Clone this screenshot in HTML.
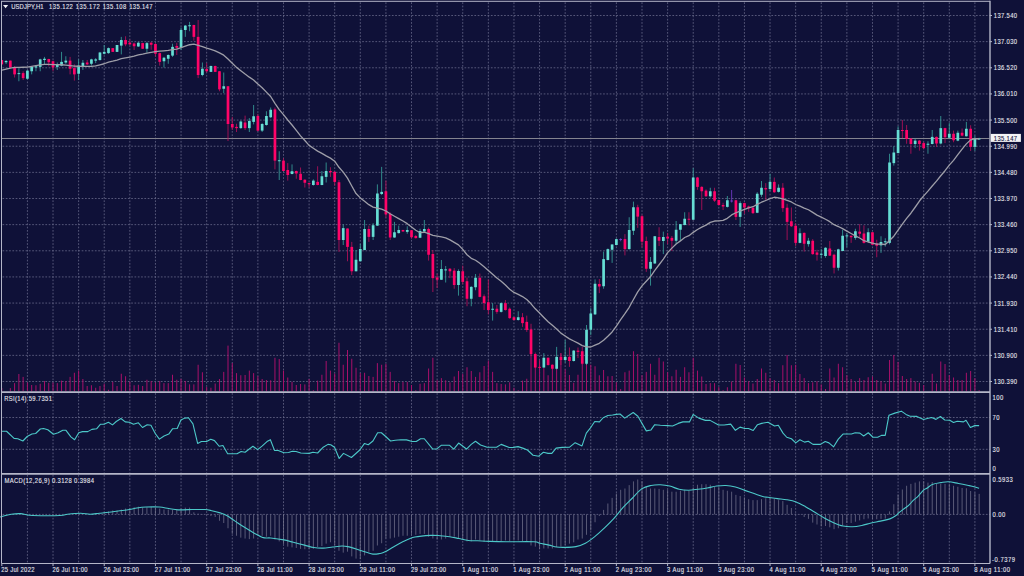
<!DOCTYPE html>
<html><head><meta charset="utf-8"><style>
html,body{margin:0;padding:0;background:#0f1138;width:1024px;height:576px;overflow:hidden}
svg{display:block}
text{font-family:"Liberation Sans",sans-serif;stroke-width:0.12}
</style></head><body>
<svg width="1024" height="576" viewBox="0 0 1024 576">
<rect x="0" y="0" width="1024" height="576" fill="#0f1138"/>
<line x1="27.41" y1="2.30" x2="27.41" y2="391.10" stroke="#686a8a" stroke-width="0.8" stroke-dasharray="1.7 1.6"/>
<line x1="27.41" y1="393.10" x2="27.41" y2="472.90" stroke="#686a8a" stroke-width="0.8" stroke-dasharray="1.7 1.6"/>
<line x1="27.41" y1="474.90" x2="27.41" y2="562.50" stroke="#686a8a" stroke-width="0.8" stroke-dasharray="1.7 1.6"/>
<line x1="53.02" y1="2.30" x2="53.02" y2="391.10" stroke="#686a8a" stroke-width="0.8" stroke-dasharray="1.7 1.6"/>
<line x1="53.02" y1="393.10" x2="53.02" y2="472.90" stroke="#686a8a" stroke-width="0.8" stroke-dasharray="1.7 1.6"/>
<line x1="53.02" y1="474.90" x2="53.02" y2="562.50" stroke="#686a8a" stroke-width="0.8" stroke-dasharray="1.7 1.6"/>
<line x1="78.62" y1="2.30" x2="78.62" y2="391.10" stroke="#686a8a" stroke-width="0.8" stroke-dasharray="1.7 1.6"/>
<line x1="78.62" y1="393.10" x2="78.62" y2="472.90" stroke="#686a8a" stroke-width="0.8" stroke-dasharray="1.7 1.6"/>
<line x1="78.62" y1="474.90" x2="78.62" y2="562.50" stroke="#686a8a" stroke-width="0.8" stroke-dasharray="1.7 1.6"/>
<line x1="104.23" y1="2.30" x2="104.23" y2="391.10" stroke="#686a8a" stroke-width="0.8" stroke-dasharray="1.7 1.6"/>
<line x1="104.23" y1="393.10" x2="104.23" y2="472.90" stroke="#686a8a" stroke-width="0.8" stroke-dasharray="1.7 1.6"/>
<line x1="104.23" y1="474.90" x2="104.23" y2="562.50" stroke="#686a8a" stroke-width="0.8" stroke-dasharray="1.7 1.6"/>
<line x1="129.84" y1="2.30" x2="129.84" y2="391.10" stroke="#686a8a" stroke-width="0.8" stroke-dasharray="1.7 1.6"/>
<line x1="129.84" y1="393.10" x2="129.84" y2="472.90" stroke="#686a8a" stroke-width="0.8" stroke-dasharray="1.7 1.6"/>
<line x1="129.84" y1="474.90" x2="129.84" y2="562.50" stroke="#686a8a" stroke-width="0.8" stroke-dasharray="1.7 1.6"/>
<line x1="155.45" y1="2.30" x2="155.45" y2="391.10" stroke="#686a8a" stroke-width="0.8" stroke-dasharray="1.7 1.6"/>
<line x1="155.45" y1="393.10" x2="155.45" y2="472.90" stroke="#686a8a" stroke-width="0.8" stroke-dasharray="1.7 1.6"/>
<line x1="155.45" y1="474.90" x2="155.45" y2="562.50" stroke="#686a8a" stroke-width="0.8" stroke-dasharray="1.7 1.6"/>
<line x1="181.06" y1="2.30" x2="181.06" y2="391.10" stroke="#686a8a" stroke-width="0.8" stroke-dasharray="1.7 1.6"/>
<line x1="181.06" y1="393.10" x2="181.06" y2="472.90" stroke="#686a8a" stroke-width="0.8" stroke-dasharray="1.7 1.6"/>
<line x1="181.06" y1="474.90" x2="181.06" y2="562.50" stroke="#686a8a" stroke-width="0.8" stroke-dasharray="1.7 1.6"/>
<line x1="206.66" y1="2.30" x2="206.66" y2="391.10" stroke="#686a8a" stroke-width="0.8" stroke-dasharray="1.7 1.6"/>
<line x1="206.66" y1="393.10" x2="206.66" y2="472.90" stroke="#686a8a" stroke-width="0.8" stroke-dasharray="1.7 1.6"/>
<line x1="206.66" y1="474.90" x2="206.66" y2="562.50" stroke="#686a8a" stroke-width="0.8" stroke-dasharray="1.7 1.6"/>
<line x1="232.27" y1="2.30" x2="232.27" y2="391.10" stroke="#686a8a" stroke-width="0.8" stroke-dasharray="1.7 1.6"/>
<line x1="232.27" y1="393.10" x2="232.27" y2="472.90" stroke="#686a8a" stroke-width="0.8" stroke-dasharray="1.7 1.6"/>
<line x1="232.27" y1="474.90" x2="232.27" y2="562.50" stroke="#686a8a" stroke-width="0.8" stroke-dasharray="1.7 1.6"/>
<line x1="257.88" y1="2.30" x2="257.88" y2="391.10" stroke="#686a8a" stroke-width="0.8" stroke-dasharray="1.7 1.6"/>
<line x1="257.88" y1="393.10" x2="257.88" y2="472.90" stroke="#686a8a" stroke-width="0.8" stroke-dasharray="1.7 1.6"/>
<line x1="257.88" y1="474.90" x2="257.88" y2="562.50" stroke="#686a8a" stroke-width="0.8" stroke-dasharray="1.7 1.6"/>
<line x1="283.49" y1="2.30" x2="283.49" y2="391.10" stroke="#686a8a" stroke-width="0.8" stroke-dasharray="1.7 1.6"/>
<line x1="283.49" y1="393.10" x2="283.49" y2="472.90" stroke="#686a8a" stroke-width="0.8" stroke-dasharray="1.7 1.6"/>
<line x1="283.49" y1="474.90" x2="283.49" y2="562.50" stroke="#686a8a" stroke-width="0.8" stroke-dasharray="1.7 1.6"/>
<line x1="309.10" y1="2.30" x2="309.10" y2="391.10" stroke="#686a8a" stroke-width="0.8" stroke-dasharray="1.7 1.6"/>
<line x1="309.10" y1="393.10" x2="309.10" y2="472.90" stroke="#686a8a" stroke-width="0.8" stroke-dasharray="1.7 1.6"/>
<line x1="309.10" y1="474.90" x2="309.10" y2="562.50" stroke="#686a8a" stroke-width="0.8" stroke-dasharray="1.7 1.6"/>
<line x1="334.70" y1="2.30" x2="334.70" y2="391.10" stroke="#686a8a" stroke-width="0.8" stroke-dasharray="1.7 1.6"/>
<line x1="334.70" y1="393.10" x2="334.70" y2="472.90" stroke="#686a8a" stroke-width="0.8" stroke-dasharray="1.7 1.6"/>
<line x1="334.70" y1="474.90" x2="334.70" y2="562.50" stroke="#686a8a" stroke-width="0.8" stroke-dasharray="1.7 1.6"/>
<line x1="360.31" y1="2.30" x2="360.31" y2="391.10" stroke="#686a8a" stroke-width="0.8" stroke-dasharray="1.7 1.6"/>
<line x1="360.31" y1="393.10" x2="360.31" y2="472.90" stroke="#686a8a" stroke-width="0.8" stroke-dasharray="1.7 1.6"/>
<line x1="360.31" y1="474.90" x2="360.31" y2="562.50" stroke="#686a8a" stroke-width="0.8" stroke-dasharray="1.7 1.6"/>
<line x1="385.92" y1="2.30" x2="385.92" y2="391.10" stroke="#686a8a" stroke-width="0.8" stroke-dasharray="1.7 1.6"/>
<line x1="385.92" y1="393.10" x2="385.92" y2="472.90" stroke="#686a8a" stroke-width="0.8" stroke-dasharray="1.7 1.6"/>
<line x1="385.92" y1="474.90" x2="385.92" y2="562.50" stroke="#686a8a" stroke-width="0.8" stroke-dasharray="1.7 1.6"/>
<line x1="411.53" y1="2.30" x2="411.53" y2="391.10" stroke="#686a8a" stroke-width="0.8" stroke-dasharray="1.7 1.6"/>
<line x1="411.53" y1="393.10" x2="411.53" y2="472.90" stroke="#686a8a" stroke-width="0.8" stroke-dasharray="1.7 1.6"/>
<line x1="411.53" y1="474.90" x2="411.53" y2="562.50" stroke="#686a8a" stroke-width="0.8" stroke-dasharray="1.7 1.6"/>
<line x1="437.14" y1="2.30" x2="437.14" y2="391.10" stroke="#686a8a" stroke-width="0.8" stroke-dasharray="1.7 1.6"/>
<line x1="437.14" y1="393.10" x2="437.14" y2="472.90" stroke="#686a8a" stroke-width="0.8" stroke-dasharray="1.7 1.6"/>
<line x1="437.14" y1="474.90" x2="437.14" y2="562.50" stroke="#686a8a" stroke-width="0.8" stroke-dasharray="1.7 1.6"/>
<line x1="462.74" y1="2.30" x2="462.74" y2="391.10" stroke="#686a8a" stroke-width="0.8" stroke-dasharray="1.7 1.6"/>
<line x1="462.74" y1="393.10" x2="462.74" y2="472.90" stroke="#686a8a" stroke-width="0.8" stroke-dasharray="1.7 1.6"/>
<line x1="462.74" y1="474.90" x2="462.74" y2="562.50" stroke="#686a8a" stroke-width="0.8" stroke-dasharray="1.7 1.6"/>
<line x1="488.35" y1="2.30" x2="488.35" y2="391.10" stroke="#686a8a" stroke-width="0.8" stroke-dasharray="1.7 1.6"/>
<line x1="488.35" y1="393.10" x2="488.35" y2="472.90" stroke="#686a8a" stroke-width="0.8" stroke-dasharray="1.7 1.6"/>
<line x1="488.35" y1="474.90" x2="488.35" y2="562.50" stroke="#686a8a" stroke-width="0.8" stroke-dasharray="1.7 1.6"/>
<line x1="513.96" y1="2.30" x2="513.96" y2="391.10" stroke="#686a8a" stroke-width="0.8" stroke-dasharray="1.7 1.6"/>
<line x1="513.96" y1="393.10" x2="513.96" y2="472.90" stroke="#686a8a" stroke-width="0.8" stroke-dasharray="1.7 1.6"/>
<line x1="513.96" y1="474.90" x2="513.96" y2="562.50" stroke="#686a8a" stroke-width="0.8" stroke-dasharray="1.7 1.6"/>
<line x1="539.57" y1="2.30" x2="539.57" y2="391.10" stroke="#686a8a" stroke-width="0.8" stroke-dasharray="1.7 1.6"/>
<line x1="539.57" y1="393.10" x2="539.57" y2="472.90" stroke="#686a8a" stroke-width="0.8" stroke-dasharray="1.7 1.6"/>
<line x1="539.57" y1="474.90" x2="539.57" y2="562.50" stroke="#686a8a" stroke-width="0.8" stroke-dasharray="1.7 1.6"/>
<line x1="565.18" y1="2.30" x2="565.18" y2="391.10" stroke="#686a8a" stroke-width="0.8" stroke-dasharray="1.7 1.6"/>
<line x1="565.18" y1="393.10" x2="565.18" y2="472.90" stroke="#686a8a" stroke-width="0.8" stroke-dasharray="1.7 1.6"/>
<line x1="565.18" y1="474.90" x2="565.18" y2="562.50" stroke="#686a8a" stroke-width="0.8" stroke-dasharray="1.7 1.6"/>
<line x1="590.78" y1="2.30" x2="590.78" y2="391.10" stroke="#686a8a" stroke-width="0.8" stroke-dasharray="1.7 1.6"/>
<line x1="590.78" y1="393.10" x2="590.78" y2="472.90" stroke="#686a8a" stroke-width="0.8" stroke-dasharray="1.7 1.6"/>
<line x1="590.78" y1="474.90" x2="590.78" y2="562.50" stroke="#686a8a" stroke-width="0.8" stroke-dasharray="1.7 1.6"/>
<line x1="616.39" y1="2.30" x2="616.39" y2="391.10" stroke="#686a8a" stroke-width="0.8" stroke-dasharray="1.7 1.6"/>
<line x1="616.39" y1="393.10" x2="616.39" y2="472.90" stroke="#686a8a" stroke-width="0.8" stroke-dasharray="1.7 1.6"/>
<line x1="616.39" y1="474.90" x2="616.39" y2="562.50" stroke="#686a8a" stroke-width="0.8" stroke-dasharray="1.7 1.6"/>
<line x1="642.00" y1="2.30" x2="642.00" y2="391.10" stroke="#686a8a" stroke-width="0.8" stroke-dasharray="1.7 1.6"/>
<line x1="642.00" y1="393.10" x2="642.00" y2="472.90" stroke="#686a8a" stroke-width="0.8" stroke-dasharray="1.7 1.6"/>
<line x1="642.00" y1="474.90" x2="642.00" y2="562.50" stroke="#686a8a" stroke-width="0.8" stroke-dasharray="1.7 1.6"/>
<line x1="667.61" y1="2.30" x2="667.61" y2="391.10" stroke="#686a8a" stroke-width="0.8" stroke-dasharray="1.7 1.6"/>
<line x1="667.61" y1="393.10" x2="667.61" y2="472.90" stroke="#686a8a" stroke-width="0.8" stroke-dasharray="1.7 1.6"/>
<line x1="667.61" y1="474.90" x2="667.61" y2="562.50" stroke="#686a8a" stroke-width="0.8" stroke-dasharray="1.7 1.6"/>
<line x1="693.22" y1="2.30" x2="693.22" y2="391.10" stroke="#686a8a" stroke-width="0.8" stroke-dasharray="1.7 1.6"/>
<line x1="693.22" y1="393.10" x2="693.22" y2="472.90" stroke="#686a8a" stroke-width="0.8" stroke-dasharray="1.7 1.6"/>
<line x1="693.22" y1="474.90" x2="693.22" y2="562.50" stroke="#686a8a" stroke-width="0.8" stroke-dasharray="1.7 1.6"/>
<line x1="718.82" y1="2.30" x2="718.82" y2="391.10" stroke="#686a8a" stroke-width="0.8" stroke-dasharray="1.7 1.6"/>
<line x1="718.82" y1="393.10" x2="718.82" y2="472.90" stroke="#686a8a" stroke-width="0.8" stroke-dasharray="1.7 1.6"/>
<line x1="718.82" y1="474.90" x2="718.82" y2="562.50" stroke="#686a8a" stroke-width="0.8" stroke-dasharray="1.7 1.6"/>
<line x1="744.43" y1="2.30" x2="744.43" y2="391.10" stroke="#686a8a" stroke-width="0.8" stroke-dasharray="1.7 1.6"/>
<line x1="744.43" y1="393.10" x2="744.43" y2="472.90" stroke="#686a8a" stroke-width="0.8" stroke-dasharray="1.7 1.6"/>
<line x1="744.43" y1="474.90" x2="744.43" y2="562.50" stroke="#686a8a" stroke-width="0.8" stroke-dasharray="1.7 1.6"/>
<line x1="770.04" y1="2.30" x2="770.04" y2="391.10" stroke="#686a8a" stroke-width="0.8" stroke-dasharray="1.7 1.6"/>
<line x1="770.04" y1="393.10" x2="770.04" y2="472.90" stroke="#686a8a" stroke-width="0.8" stroke-dasharray="1.7 1.6"/>
<line x1="770.04" y1="474.90" x2="770.04" y2="562.50" stroke="#686a8a" stroke-width="0.8" stroke-dasharray="1.7 1.6"/>
<line x1="795.65" y1="2.30" x2="795.65" y2="391.10" stroke="#686a8a" stroke-width="0.8" stroke-dasharray="1.7 1.6"/>
<line x1="795.65" y1="393.10" x2="795.65" y2="472.90" stroke="#686a8a" stroke-width="0.8" stroke-dasharray="1.7 1.6"/>
<line x1="795.65" y1="474.90" x2="795.65" y2="562.50" stroke="#686a8a" stroke-width="0.8" stroke-dasharray="1.7 1.6"/>
<line x1="821.26" y1="2.30" x2="821.26" y2="391.10" stroke="#686a8a" stroke-width="0.8" stroke-dasharray="1.7 1.6"/>
<line x1="821.26" y1="393.10" x2="821.26" y2="472.90" stroke="#686a8a" stroke-width="0.8" stroke-dasharray="1.7 1.6"/>
<line x1="821.26" y1="474.90" x2="821.26" y2="562.50" stroke="#686a8a" stroke-width="0.8" stroke-dasharray="1.7 1.6"/>
<line x1="846.86" y1="2.30" x2="846.86" y2="391.10" stroke="#686a8a" stroke-width="0.8" stroke-dasharray="1.7 1.6"/>
<line x1="846.86" y1="393.10" x2="846.86" y2="472.90" stroke="#686a8a" stroke-width="0.8" stroke-dasharray="1.7 1.6"/>
<line x1="846.86" y1="474.90" x2="846.86" y2="562.50" stroke="#686a8a" stroke-width="0.8" stroke-dasharray="1.7 1.6"/>
<line x1="872.47" y1="2.30" x2="872.47" y2="391.10" stroke="#686a8a" stroke-width="0.8" stroke-dasharray="1.7 1.6"/>
<line x1="872.47" y1="393.10" x2="872.47" y2="472.90" stroke="#686a8a" stroke-width="0.8" stroke-dasharray="1.7 1.6"/>
<line x1="872.47" y1="474.90" x2="872.47" y2="562.50" stroke="#686a8a" stroke-width="0.8" stroke-dasharray="1.7 1.6"/>
<line x1="898.08" y1="2.30" x2="898.08" y2="391.10" stroke="#686a8a" stroke-width="0.8" stroke-dasharray="1.7 1.6"/>
<line x1="898.08" y1="393.10" x2="898.08" y2="472.90" stroke="#686a8a" stroke-width="0.8" stroke-dasharray="1.7 1.6"/>
<line x1="898.08" y1="474.90" x2="898.08" y2="562.50" stroke="#686a8a" stroke-width="0.8" stroke-dasharray="1.7 1.6"/>
<line x1="923.69" y1="2.30" x2="923.69" y2="391.10" stroke="#686a8a" stroke-width="0.8" stroke-dasharray="1.7 1.6"/>
<line x1="923.69" y1="393.10" x2="923.69" y2="472.90" stroke="#686a8a" stroke-width="0.8" stroke-dasharray="1.7 1.6"/>
<line x1="923.69" y1="474.90" x2="923.69" y2="562.50" stroke="#686a8a" stroke-width="0.8" stroke-dasharray="1.7 1.6"/>
<line x1="949.30" y1="2.30" x2="949.30" y2="391.10" stroke="#686a8a" stroke-width="0.8" stroke-dasharray="1.7 1.6"/>
<line x1="949.30" y1="393.10" x2="949.30" y2="472.90" stroke="#686a8a" stroke-width="0.8" stroke-dasharray="1.7 1.6"/>
<line x1="949.30" y1="474.90" x2="949.30" y2="562.50" stroke="#686a8a" stroke-width="0.8" stroke-dasharray="1.7 1.6"/>
<line x1="974.90" y1="2.30" x2="974.90" y2="391.10" stroke="#686a8a" stroke-width="0.8" stroke-dasharray="1.7 1.6"/>
<line x1="974.90" y1="393.10" x2="974.90" y2="472.90" stroke="#686a8a" stroke-width="0.8" stroke-dasharray="1.7 1.6"/>
<line x1="974.90" y1="474.90" x2="974.90" y2="562.50" stroke="#686a8a" stroke-width="0.8" stroke-dasharray="1.7 1.6"/>
<line x1="2.50" y1="15.50" x2="990.00" y2="15.50" stroke="#686a8a" stroke-width="0.8" stroke-dasharray="1.7 1.6"/>
<line x1="2.50" y1="41.64" x2="990.00" y2="41.64" stroke="#686a8a" stroke-width="0.8" stroke-dasharray="1.7 1.6"/>
<line x1="2.50" y1="67.79" x2="990.00" y2="67.79" stroke="#686a8a" stroke-width="0.8" stroke-dasharray="1.7 1.6"/>
<line x1="2.50" y1="93.93" x2="990.00" y2="93.93" stroke="#686a8a" stroke-width="0.8" stroke-dasharray="1.7 1.6"/>
<line x1="2.50" y1="120.07" x2="990.00" y2="120.07" stroke="#686a8a" stroke-width="0.8" stroke-dasharray="1.7 1.6"/>
<line x1="2.50" y1="146.22" x2="990.00" y2="146.22" stroke="#686a8a" stroke-width="0.8" stroke-dasharray="1.7 1.6"/>
<line x1="2.50" y1="172.36" x2="990.00" y2="172.36" stroke="#686a8a" stroke-width="0.8" stroke-dasharray="1.7 1.6"/>
<line x1="2.50" y1="198.50" x2="990.00" y2="198.50" stroke="#686a8a" stroke-width="0.8" stroke-dasharray="1.7 1.6"/>
<line x1="2.50" y1="224.64" x2="990.00" y2="224.64" stroke="#686a8a" stroke-width="0.8" stroke-dasharray="1.7 1.6"/>
<line x1="2.50" y1="250.79" x2="990.00" y2="250.79" stroke="#686a8a" stroke-width="0.8" stroke-dasharray="1.7 1.6"/>
<line x1="2.50" y1="276.93" x2="990.00" y2="276.93" stroke="#686a8a" stroke-width="0.8" stroke-dasharray="1.7 1.6"/>
<line x1="2.50" y1="303.07" x2="990.00" y2="303.07" stroke="#686a8a" stroke-width="0.8" stroke-dasharray="1.7 1.6"/>
<line x1="2.50" y1="329.22" x2="990.00" y2="329.22" stroke="#686a8a" stroke-width="0.8" stroke-dasharray="1.7 1.6"/>
<line x1="2.50" y1="355.36" x2="990.00" y2="355.36" stroke="#686a8a" stroke-width="0.8" stroke-dasharray="1.7 1.6"/>
<line x1="2.50" y1="381.50" x2="990.00" y2="381.50" stroke="#686a8a" stroke-width="0.8" stroke-dasharray="1.7 1.6"/>
<line x1="2.50" y1="417.50" x2="990.00" y2="417.50" stroke="#686a8a" stroke-width="0.8" stroke-dasharray="1.7 1.6"/>
<line x1="2.50" y1="449.30" x2="990.00" y2="449.30" stroke="#686a8a" stroke-width="0.8" stroke-dasharray="1.7 1.6"/>
<line x1="2.50" y1="514.40" x2="990.00" y2="514.40" stroke="#686a8a" stroke-width="0.8" stroke-dasharray="1.7 1.6"/>
<defs><clipPath id="cm"><rect x="2" y="1.5" width="987.5" height="390"/></clipPath><clipPath id="cr"><rect x="2" y="393" width="987.5" height="80"/></clipPath><clipPath id="cd"><rect x="2" y="474.5" width="987.5" height="88.5"/></clipPath></defs>
<g clip-path="url(#cm)">
<line x1="1.80" y1="388.12" x2="1.80" y2="391.6" stroke="#a8106a" stroke-width="1"/>
<line x1="10.34" y1="388.12" x2="10.34" y2="391.6" stroke="#a8106a" stroke-width="1"/>
<line x1="14.60" y1="383.12" x2="14.60" y2="391.6" stroke="#a8106a" stroke-width="1"/>
<line x1="18.87" y1="374.00" x2="18.87" y2="391.6" stroke="#a8106a" stroke-width="1"/>
<line x1="23.14" y1="376.88" x2="23.14" y2="391.6" stroke="#a8106a" stroke-width="1"/>
<line x1="27.41" y1="382.50" x2="27.41" y2="391.6" stroke="#a8106a" stroke-width="1"/>
<line x1="31.68" y1="385.00" x2="31.68" y2="391.6" stroke="#a8106a" stroke-width="1"/>
<line x1="35.94" y1="385.25" x2="35.94" y2="391.6" stroke="#a8106a" stroke-width="1"/>
<line x1="40.21" y1="383.75" x2="40.21" y2="391.6" stroke="#a8106a" stroke-width="1"/>
<line x1="44.48" y1="381.00" x2="44.48" y2="391.6" stroke="#a8106a" stroke-width="1"/>
<line x1="48.75" y1="382.75" x2="48.75" y2="391.6" stroke="#a8106a" stroke-width="1"/>
<line x1="53.02" y1="382.50" x2="53.02" y2="391.6" stroke="#a8106a" stroke-width="1"/>
<line x1="57.28" y1="383.12" x2="57.28" y2="391.6" stroke="#a8106a" stroke-width="1"/>
<line x1="61.55" y1="380.62" x2="61.55" y2="391.6" stroke="#a8106a" stroke-width="1"/>
<line x1="65.82" y1="381.00" x2="65.82" y2="391.6" stroke="#a8106a" stroke-width="1"/>
<line x1="70.09" y1="376.88" x2="70.09" y2="391.6" stroke="#a8106a" stroke-width="1"/>
<line x1="74.36" y1="372.75" x2="74.36" y2="391.6" stroke="#a8106a" stroke-width="1"/>
<line x1="78.62" y1="370.62" x2="78.62" y2="391.6" stroke="#a8106a" stroke-width="1"/>
<line x1="82.89" y1="379.00" x2="82.89" y2="391.6" stroke="#a8106a" stroke-width="1"/>
<line x1="87.16" y1="386.00" x2="87.16" y2="391.6" stroke="#a8106a" stroke-width="1"/>
<line x1="91.43" y1="385.25" x2="91.43" y2="391.6" stroke="#a8106a" stroke-width="1"/>
<line x1="95.70" y1="387.75" x2="95.70" y2="391.6" stroke="#a8106a" stroke-width="1"/>
<line x1="99.96" y1="386.00" x2="99.96" y2="391.6" stroke="#a8106a" stroke-width="1"/>
<line x1="104.23" y1="383.75" x2="104.23" y2="391.6" stroke="#a8106a" stroke-width="1"/>
<line x1="108.50" y1="389.75" x2="108.50" y2="391.6" stroke="#a8106a" stroke-width="1"/>
<line x1="112.77" y1="381.88" x2="112.77" y2="391.6" stroke="#a8106a" stroke-width="1"/>
<line x1="117.04" y1="386.00" x2="117.04" y2="391.6" stroke="#a8106a" stroke-width="1"/>
<line x1="121.30" y1="373.75" x2="121.30" y2="391.6" stroke="#a8106a" stroke-width="1"/>
<line x1="125.57" y1="376.25" x2="125.57" y2="391.6" stroke="#a8106a" stroke-width="1"/>
<line x1="129.84" y1="381.50" x2="129.84" y2="391.6" stroke="#a8106a" stroke-width="1"/>
<line x1="134.11" y1="385.25" x2="134.11" y2="391.6" stroke="#a8106a" stroke-width="1"/>
<line x1="138.38" y1="384.75" x2="138.38" y2="391.6" stroke="#a8106a" stroke-width="1"/>
<line x1="142.64" y1="386.00" x2="142.64" y2="391.6" stroke="#a8106a" stroke-width="1"/>
<line x1="146.91" y1="379.75" x2="146.91" y2="391.6" stroke="#a8106a" stroke-width="1"/>
<line x1="151.18" y1="381.00" x2="151.18" y2="391.6" stroke="#a8106a" stroke-width="1"/>
<line x1="155.45" y1="382.50" x2="155.45" y2="391.6" stroke="#a8106a" stroke-width="1"/>
<line x1="159.72" y1="381.00" x2="159.72" y2="391.6" stroke="#a8106a" stroke-width="1"/>
<line x1="163.98" y1="383.12" x2="163.98" y2="391.6" stroke="#a8106a" stroke-width="1"/>
<line x1="168.25" y1="383.12" x2="168.25" y2="391.6" stroke="#a8106a" stroke-width="1"/>
<line x1="172.52" y1="374.75" x2="172.52" y2="391.6" stroke="#a8106a" stroke-width="1"/>
<line x1="176.79" y1="379.75" x2="176.79" y2="391.6" stroke="#a8106a" stroke-width="1"/>
<line x1="181.06" y1="378.75" x2="181.06" y2="391.6" stroke="#a8106a" stroke-width="1"/>
<line x1="185.32" y1="381.00" x2="185.32" y2="391.6" stroke="#a8106a" stroke-width="1"/>
<line x1="189.59" y1="384.38" x2="189.59" y2="391.6" stroke="#a8106a" stroke-width="1"/>
<line x1="193.86" y1="384.38" x2="193.86" y2="391.6" stroke="#a8106a" stroke-width="1"/>
<line x1="198.13" y1="364.75" x2="198.13" y2="391.6" stroke="#a8106a" stroke-width="1"/>
<line x1="202.40" y1="372.25" x2="202.40" y2="391.6" stroke="#a8106a" stroke-width="1"/>
<line x1="206.66" y1="386.88" x2="206.66" y2="391.6" stroke="#a8106a" stroke-width="1"/>
<line x1="210.93" y1="387.75" x2="210.93" y2="391.6" stroke="#a8106a" stroke-width="1"/>
<line x1="215.20" y1="383.50" x2="215.20" y2="391.6" stroke="#a8106a" stroke-width="1"/>
<line x1="219.47" y1="379.00" x2="219.47" y2="391.6" stroke="#a8106a" stroke-width="1"/>
<line x1="223.74" y1="371.88" x2="223.74" y2="391.6" stroke="#a8106a" stroke-width="1"/>
<line x1="228.00" y1="345.62" x2="228.00" y2="391.6" stroke="#a8106a" stroke-width="1"/>
<line x1="232.27" y1="363.12" x2="232.27" y2="391.6" stroke="#a8106a" stroke-width="1"/>
<line x1="236.54" y1="373.12" x2="236.54" y2="391.6" stroke="#a8106a" stroke-width="1"/>
<line x1="240.81" y1="375.25" x2="240.81" y2="391.6" stroke="#a8106a" stroke-width="1"/>
<line x1="245.08" y1="375.00" x2="245.08" y2="391.6" stroke="#a8106a" stroke-width="1"/>
<line x1="249.34" y1="370.62" x2="249.34" y2="391.6" stroke="#a8106a" stroke-width="1"/>
<line x1="253.61" y1="373.12" x2="253.61" y2="391.6" stroke="#a8106a" stroke-width="1"/>
<line x1="257.88" y1="376.25" x2="257.88" y2="391.6" stroke="#a8106a" stroke-width="1"/>
<line x1="262.15" y1="379.00" x2="262.15" y2="391.6" stroke="#a8106a" stroke-width="1"/>
<line x1="266.42" y1="380.00" x2="266.42" y2="391.6" stroke="#a8106a" stroke-width="1"/>
<line x1="270.68" y1="380.25" x2="270.68" y2="391.6" stroke="#a8106a" stroke-width="1"/>
<line x1="274.95" y1="357.75" x2="274.95" y2="391.6" stroke="#a8106a" stroke-width="1"/>
<line x1="279.22" y1="359.00" x2="279.22" y2="391.6" stroke="#a8106a" stroke-width="1"/>
<line x1="283.49" y1="370.62" x2="283.49" y2="391.6" stroke="#a8106a" stroke-width="1"/>
<line x1="287.76" y1="377.50" x2="287.76" y2="391.6" stroke="#a8106a" stroke-width="1"/>
<line x1="292.02" y1="381.88" x2="292.02" y2="391.6" stroke="#a8106a" stroke-width="1"/>
<line x1="296.29" y1="385.00" x2="296.29" y2="391.6" stroke="#a8106a" stroke-width="1"/>
<line x1="300.56" y1="384.00" x2="300.56" y2="391.6" stroke="#a8106a" stroke-width="1"/>
<line x1="304.83" y1="384.38" x2="304.83" y2="391.6" stroke="#a8106a" stroke-width="1"/>
<line x1="309.10" y1="379.00" x2="309.10" y2="391.6" stroke="#a8106a" stroke-width="1"/>
<line x1="313.36" y1="390.25" x2="313.36" y2="391.6" stroke="#a8106a" stroke-width="1"/>
<line x1="317.63" y1="380.62" x2="317.63" y2="391.6" stroke="#a8106a" stroke-width="1"/>
<line x1="321.90" y1="374.75" x2="321.90" y2="391.6" stroke="#a8106a" stroke-width="1"/>
<line x1="326.17" y1="361.00" x2="326.17" y2="391.6" stroke="#a8106a" stroke-width="1"/>
<line x1="330.44" y1="370.62" x2="330.44" y2="391.6" stroke="#a8106a" stroke-width="1"/>
<line x1="334.70" y1="373.50" x2="334.70" y2="391.6" stroke="#a8106a" stroke-width="1"/>
<line x1="338.97" y1="342.75" x2="338.97" y2="391.6" stroke="#a8106a" stroke-width="1"/>
<line x1="343.24" y1="364.75" x2="343.24" y2="391.6" stroke="#a8106a" stroke-width="1"/>
<line x1="347.51" y1="350.00" x2="347.51" y2="391.6" stroke="#a8106a" stroke-width="1"/>
<line x1="351.78" y1="358.75" x2="351.78" y2="391.6" stroke="#a8106a" stroke-width="1"/>
<line x1="356.04" y1="367.75" x2="356.04" y2="391.6" stroke="#a8106a" stroke-width="1"/>
<line x1="360.31" y1="373.12" x2="360.31" y2="391.6" stroke="#a8106a" stroke-width="1"/>
<line x1="364.58" y1="372.75" x2="364.58" y2="391.6" stroke="#a8106a" stroke-width="1"/>
<line x1="368.85" y1="376.00" x2="368.85" y2="391.6" stroke="#a8106a" stroke-width="1"/>
<line x1="373.12" y1="376.88" x2="373.12" y2="391.6" stroke="#a8106a" stroke-width="1"/>
<line x1="377.38" y1="363.12" x2="377.38" y2="391.6" stroke="#a8106a" stroke-width="1"/>
<line x1="381.65" y1="364.75" x2="381.65" y2="391.6" stroke="#a8106a" stroke-width="1"/>
<line x1="385.92" y1="363.75" x2="385.92" y2="391.6" stroke="#a8106a" stroke-width="1"/>
<line x1="390.19" y1="371.88" x2="390.19" y2="391.6" stroke="#a8106a" stroke-width="1"/>
<line x1="394.46" y1="381.00" x2="394.46" y2="391.6" stroke="#a8106a" stroke-width="1"/>
<line x1="398.72" y1="383.12" x2="398.72" y2="391.6" stroke="#a8106a" stroke-width="1"/>
<line x1="402.99" y1="381.88" x2="402.99" y2="391.6" stroke="#a8106a" stroke-width="1"/>
<line x1="407.26" y1="381.88" x2="407.26" y2="391.6" stroke="#a8106a" stroke-width="1"/>
<line x1="411.53" y1="385.00" x2="411.53" y2="391.6" stroke="#a8106a" stroke-width="1"/>
<line x1="415.80" y1="390.25" x2="415.80" y2="391.6" stroke="#a8106a" stroke-width="1"/>
<line x1="420.06" y1="383.75" x2="420.06" y2="391.6" stroke="#a8106a" stroke-width="1"/>
<line x1="424.33" y1="383.12" x2="424.33" y2="391.6" stroke="#a8106a" stroke-width="1"/>
<line x1="428.60" y1="368.50" x2="428.60" y2="391.6" stroke="#a8106a" stroke-width="1"/>
<line x1="432.87" y1="357.75" x2="432.87" y2="391.6" stroke="#a8106a" stroke-width="1"/>
<line x1="437.14" y1="380.25" x2="437.14" y2="391.6" stroke="#a8106a" stroke-width="1"/>
<line x1="441.40" y1="378.12" x2="441.40" y2="391.6" stroke="#a8106a" stroke-width="1"/>
<line x1="445.67" y1="380.25" x2="445.67" y2="391.6" stroke="#a8106a" stroke-width="1"/>
<line x1="449.94" y1="382.25" x2="449.94" y2="391.6" stroke="#a8106a" stroke-width="1"/>
<line x1="454.21" y1="376.50" x2="454.21" y2="391.6" stroke="#a8106a" stroke-width="1"/>
<line x1="458.48" y1="371.00" x2="458.48" y2="391.6" stroke="#a8106a" stroke-width="1"/>
<line x1="462.74" y1="373.75" x2="462.74" y2="391.6" stroke="#a8106a" stroke-width="1"/>
<line x1="467.01" y1="367.25" x2="467.01" y2="391.6" stroke="#a8106a" stroke-width="1"/>
<line x1="471.28" y1="371.00" x2="471.28" y2="391.6" stroke="#a8106a" stroke-width="1"/>
<line x1="475.55" y1="376.88" x2="475.55" y2="391.6" stroke="#a8106a" stroke-width="1"/>
<line x1="479.82" y1="372.25" x2="479.82" y2="391.6" stroke="#a8106a" stroke-width="1"/>
<line x1="484.08" y1="366.00" x2="484.08" y2="391.6" stroke="#a8106a" stroke-width="1"/>
<line x1="488.35" y1="360.62" x2="488.35" y2="391.6" stroke="#a8106a" stroke-width="1"/>
<line x1="492.62" y1="371.88" x2="492.62" y2="391.6" stroke="#a8106a" stroke-width="1"/>
<line x1="496.89" y1="383.12" x2="496.89" y2="391.6" stroke="#a8106a" stroke-width="1"/>
<line x1="501.16" y1="384.00" x2="501.16" y2="391.6" stroke="#a8106a" stroke-width="1"/>
<line x1="505.42" y1="384.38" x2="505.42" y2="391.6" stroke="#a8106a" stroke-width="1"/>
<line x1="509.69" y1="382.25" x2="509.69" y2="391.6" stroke="#a8106a" stroke-width="1"/>
<line x1="513.96" y1="387.75" x2="513.96" y2="391.6" stroke="#a8106a" stroke-width="1"/>
<line x1="518.23" y1="390.25" x2="518.23" y2="391.6" stroke="#a8106a" stroke-width="1"/>
<line x1="522.50" y1="380.62" x2="522.50" y2="391.6" stroke="#a8106a" stroke-width="1"/>
<line x1="526.76" y1="378.75" x2="526.76" y2="391.6" stroke="#a8106a" stroke-width="1"/>
<line x1="531.03" y1="353.12" x2="531.03" y2="391.6" stroke="#a8106a" stroke-width="1"/>
<line x1="535.30" y1="362.50" x2="535.30" y2="391.6" stroke="#a8106a" stroke-width="1"/>
<line x1="539.57" y1="360.62" x2="539.57" y2="391.6" stroke="#a8106a" stroke-width="1"/>
<line x1="543.84" y1="368.12" x2="543.84" y2="391.6" stroke="#a8106a" stroke-width="1"/>
<line x1="548.10" y1="375.25" x2="548.10" y2="391.6" stroke="#a8106a" stroke-width="1"/>
<line x1="552.37" y1="368.75" x2="552.37" y2="391.6" stroke="#a8106a" stroke-width="1"/>
<line x1="556.64" y1="366.25" x2="556.64" y2="391.6" stroke="#a8106a" stroke-width="1"/>
<line x1="560.91" y1="353.12" x2="560.91" y2="391.6" stroke="#a8106a" stroke-width="1"/>
<line x1="565.18" y1="369.38" x2="565.18" y2="391.6" stroke="#a8106a" stroke-width="1"/>
<line x1="569.44" y1="375.00" x2="569.44" y2="391.6" stroke="#a8106a" stroke-width="1"/>
<line x1="573.71" y1="382.75" x2="573.71" y2="391.6" stroke="#a8106a" stroke-width="1"/>
<line x1="577.98" y1="374.75" x2="577.98" y2="391.6" stroke="#a8106a" stroke-width="1"/>
<line x1="582.25" y1="364.38" x2="582.25" y2="391.6" stroke="#a8106a" stroke-width="1"/>
<line x1="586.52" y1="362.25" x2="586.52" y2="391.6" stroke="#a8106a" stroke-width="1"/>
<line x1="590.78" y1="364.75" x2="590.78" y2="391.6" stroke="#a8106a" stroke-width="1"/>
<line x1="595.05" y1="366.25" x2="595.05" y2="391.6" stroke="#a8106a" stroke-width="1"/>
<line x1="599.32" y1="375.25" x2="599.32" y2="391.6" stroke="#a8106a" stroke-width="1"/>
<line x1="603.59" y1="370.00" x2="603.59" y2="391.6" stroke="#a8106a" stroke-width="1"/>
<line x1="607.86" y1="376.25" x2="607.86" y2="391.6" stroke="#a8106a" stroke-width="1"/>
<line x1="612.12" y1="376.00" x2="612.12" y2="391.6" stroke="#a8106a" stroke-width="1"/>
<line x1="616.39" y1="382.25" x2="616.39" y2="391.6" stroke="#a8106a" stroke-width="1"/>
<line x1="620.66" y1="389.00" x2="620.66" y2="391.6" stroke="#a8106a" stroke-width="1"/>
<line x1="624.93" y1="372.25" x2="624.93" y2="391.6" stroke="#a8106a" stroke-width="1"/>
<line x1="629.20" y1="370.62" x2="629.20" y2="391.6" stroke="#a8106a" stroke-width="1"/>
<line x1="633.46" y1="351.25" x2="633.46" y2="391.6" stroke="#a8106a" stroke-width="1"/>
<line x1="637.73" y1="354.00" x2="637.73" y2="391.6" stroke="#a8106a" stroke-width="1"/>
<line x1="642.00" y1="375.25" x2="642.00" y2="391.6" stroke="#a8106a" stroke-width="1"/>
<line x1="646.27" y1="371.88" x2="646.27" y2="391.6" stroke="#a8106a" stroke-width="1"/>
<line x1="650.54" y1="363.75" x2="650.54" y2="391.6" stroke="#a8106a" stroke-width="1"/>
<line x1="654.80" y1="374.75" x2="654.80" y2="391.6" stroke="#a8106a" stroke-width="1"/>
<line x1="659.07" y1="357.75" x2="659.07" y2="391.6" stroke="#a8106a" stroke-width="1"/>
<line x1="663.34" y1="361.50" x2="663.34" y2="391.6" stroke="#a8106a" stroke-width="1"/>
<line x1="667.61" y1="372.25" x2="667.61" y2="391.6" stroke="#a8106a" stroke-width="1"/>
<line x1="671.88" y1="376.25" x2="671.88" y2="391.6" stroke="#a8106a" stroke-width="1"/>
<line x1="676.14" y1="369.75" x2="676.14" y2="391.6" stroke="#a8106a" stroke-width="1"/>
<line x1="680.41" y1="376.88" x2="680.41" y2="391.6" stroke="#a8106a" stroke-width="1"/>
<line x1="684.68" y1="367.25" x2="684.68" y2="391.6" stroke="#a8106a" stroke-width="1"/>
<line x1="688.95" y1="372.25" x2="688.95" y2="391.6" stroke="#a8106a" stroke-width="1"/>
<line x1="693.22" y1="357.75" x2="693.22" y2="391.6" stroke="#a8106a" stroke-width="1"/>
<line x1="697.48" y1="370.62" x2="697.48" y2="391.6" stroke="#a8106a" stroke-width="1"/>
<line x1="701.75" y1="376.50" x2="701.75" y2="391.6" stroke="#a8106a" stroke-width="1"/>
<line x1="706.02" y1="384.00" x2="706.02" y2="391.6" stroke="#a8106a" stroke-width="1"/>
<line x1="710.29" y1="383.12" x2="710.29" y2="391.6" stroke="#a8106a" stroke-width="1"/>
<line x1="714.56" y1="383.12" x2="714.56" y2="391.6" stroke="#a8106a" stroke-width="1"/>
<line x1="718.82" y1="386.88" x2="718.82" y2="391.6" stroke="#a8106a" stroke-width="1"/>
<line x1="723.09" y1="390.25" x2="723.09" y2="391.6" stroke="#a8106a" stroke-width="1"/>
<line x1="727.36" y1="387.25" x2="727.36" y2="391.6" stroke="#a8106a" stroke-width="1"/>
<line x1="731.63" y1="381.50" x2="731.63" y2="391.6" stroke="#a8106a" stroke-width="1"/>
<line x1="735.90" y1="363.75" x2="735.90" y2="391.6" stroke="#a8106a" stroke-width="1"/>
<line x1="740.16" y1="365.00" x2="740.16" y2="391.6" stroke="#a8106a" stroke-width="1"/>
<line x1="744.43" y1="377.50" x2="744.43" y2="391.6" stroke="#a8106a" stroke-width="1"/>
<line x1="748.70" y1="381.25" x2="748.70" y2="391.6" stroke="#a8106a" stroke-width="1"/>
<line x1="752.97" y1="383.50" x2="752.97" y2="391.6" stroke="#a8106a" stroke-width="1"/>
<line x1="757.24" y1="379.00" x2="757.24" y2="391.6" stroke="#a8106a" stroke-width="1"/>
<line x1="761.50" y1="368.50" x2="761.50" y2="391.6" stroke="#a8106a" stroke-width="1"/>
<line x1="765.77" y1="372.75" x2="765.77" y2="391.6" stroke="#a8106a" stroke-width="1"/>
<line x1="770.04" y1="378.12" x2="770.04" y2="391.6" stroke="#a8106a" stroke-width="1"/>
<line x1="774.31" y1="380.00" x2="774.31" y2="391.6" stroke="#a8106a" stroke-width="1"/>
<line x1="778.58" y1="383.12" x2="778.58" y2="391.6" stroke="#a8106a" stroke-width="1"/>
<line x1="782.84" y1="365.25" x2="782.84" y2="391.6" stroke="#a8106a" stroke-width="1"/>
<line x1="787.11" y1="355.00" x2="787.11" y2="391.6" stroke="#a8106a" stroke-width="1"/>
<line x1="791.38" y1="365.25" x2="791.38" y2="391.6" stroke="#a8106a" stroke-width="1"/>
<line x1="795.65" y1="364.75" x2="795.65" y2="391.6" stroke="#a8106a" stroke-width="1"/>
<line x1="799.92" y1="374.00" x2="799.92" y2="391.6" stroke="#a8106a" stroke-width="1"/>
<line x1="804.18" y1="378.12" x2="804.18" y2="391.6" stroke="#a8106a" stroke-width="1"/>
<line x1="808.45" y1="383.12" x2="808.45" y2="391.6" stroke="#a8106a" stroke-width="1"/>
<line x1="812.72" y1="382.25" x2="812.72" y2="391.6" stroke="#a8106a" stroke-width="1"/>
<line x1="816.99" y1="381.25" x2="816.99" y2="391.6" stroke="#a8106a" stroke-width="1"/>
<line x1="821.26" y1="384.38" x2="821.26" y2="391.6" stroke="#a8106a" stroke-width="1"/>
<line x1="825.52" y1="389.00" x2="825.52" y2="391.6" stroke="#a8106a" stroke-width="1"/>
<line x1="829.79" y1="368.50" x2="829.79" y2="391.6" stroke="#a8106a" stroke-width="1"/>
<line x1="834.06" y1="377.50" x2="834.06" y2="391.6" stroke="#a8106a" stroke-width="1"/>
<line x1="838.33" y1="363.75" x2="838.33" y2="391.6" stroke="#a8106a" stroke-width="1"/>
<line x1="842.60" y1="367.25" x2="842.60" y2="391.6" stroke="#a8106a" stroke-width="1"/>
<line x1="846.86" y1="375.25" x2="846.86" y2="391.6" stroke="#a8106a" stroke-width="1"/>
<line x1="851.13" y1="379.00" x2="851.13" y2="391.6" stroke="#a8106a" stroke-width="1"/>
<line x1="855.40" y1="381.88" x2="855.40" y2="391.6" stroke="#a8106a" stroke-width="1"/>
<line x1="859.67" y1="378.12" x2="859.67" y2="391.6" stroke="#a8106a" stroke-width="1"/>
<line x1="863.94" y1="380.00" x2="863.94" y2="391.6" stroke="#a8106a" stroke-width="1"/>
<line x1="868.20" y1="377.25" x2="868.20" y2="391.6" stroke="#a8106a" stroke-width="1"/>
<line x1="872.47" y1="376.50" x2="872.47" y2="391.6" stroke="#a8106a" stroke-width="1"/>
<line x1="876.74" y1="380.00" x2="876.74" y2="391.6" stroke="#a8106a" stroke-width="1"/>
<line x1="881.01" y1="381.25" x2="881.01" y2="391.6" stroke="#a8106a" stroke-width="1"/>
<line x1="885.28" y1="383.50" x2="885.28" y2="391.6" stroke="#a8106a" stroke-width="1"/>
<line x1="889.54" y1="360.00" x2="889.54" y2="391.6" stroke="#a8106a" stroke-width="1"/>
<line x1="893.81" y1="355.00" x2="893.81" y2="391.6" stroke="#a8106a" stroke-width="1"/>
<line x1="898.08" y1="361.88" x2="898.08" y2="391.6" stroke="#a8106a" stroke-width="1"/>
<line x1="902.35" y1="376.00" x2="902.35" y2="391.6" stroke="#a8106a" stroke-width="1"/>
<line x1="906.62" y1="379.00" x2="906.62" y2="391.6" stroke="#a8106a" stroke-width="1"/>
<line x1="910.88" y1="378.12" x2="910.88" y2="391.6" stroke="#a8106a" stroke-width="1"/>
<line x1="915.15" y1="381.50" x2="915.15" y2="391.6" stroke="#a8106a" stroke-width="1"/>
<line x1="919.42" y1="382.75" x2="919.42" y2="391.6" stroke="#a8106a" stroke-width="1"/>
<line x1="923.69" y1="385.00" x2="923.69" y2="391.6" stroke="#a8106a" stroke-width="1"/>
<line x1="932.22" y1="373.75" x2="932.22" y2="391.6" stroke="#a8106a" stroke-width="1"/>
<line x1="936.49" y1="383.50" x2="936.49" y2="391.6" stroke="#a8106a" stroke-width="1"/>
<line x1="940.76" y1="361.50" x2="940.76" y2="391.6" stroke="#a8106a" stroke-width="1"/>
<line x1="945.03" y1="364.00" x2="945.03" y2="391.6" stroke="#a8106a" stroke-width="1"/>
<line x1="949.30" y1="375.00" x2="949.30" y2="391.6" stroke="#a8106a" stroke-width="1"/>
<line x1="953.56" y1="377.50" x2="953.56" y2="391.6" stroke="#a8106a" stroke-width="1"/>
<line x1="957.83" y1="380.00" x2="957.83" y2="391.6" stroke="#a8106a" stroke-width="1"/>
<line x1="962.10" y1="380.00" x2="962.10" y2="391.6" stroke="#a8106a" stroke-width="1"/>
<line x1="966.37" y1="372.75" x2="966.37" y2="391.6" stroke="#a8106a" stroke-width="1"/>
<line x1="970.64" y1="371.00" x2="970.64" y2="391.6" stroke="#a8106a" stroke-width="1"/>
<line x1="974.90" y1="378.12" x2="974.90" y2="391.6" stroke="#a8106a" stroke-width="1"/>
<line x1="979.17" y1="390.25" x2="979.17" y2="391.6" stroke="#a8106a" stroke-width="1"/>
<line x1="1.50" y1="138.50" x2="990.00" y2="138.50" stroke="#84848f" stroke-width="1"/>
<line x1="1.80" y1="60.00" x2="1.80" y2="64.38" stroke="#c0105a" stroke-width="0.8"/>
<rect x="0.45" y="60.00" width="2.70" height="4.38" fill="#ff0468"/>
<line x1="6.07" y1="60.00" x2="6.07" y2="64.00" stroke="#3aa8a0" stroke-width="0.8"/>
<rect x="4.72" y="61.00" width="2.70" height="1.25" fill="#66ded4"/>
<line x1="10.34" y1="60.62" x2="10.34" y2="67.50" stroke="#c0105a" stroke-width="0.8"/>
<rect x="8.99" y="60.62" width="2.70" height="6.88" fill="#ff0468"/>
<line x1="14.60" y1="66.25" x2="14.60" y2="77.50" stroke="#c0105a" stroke-width="0.8"/>
<rect x="13.25" y="67.50" width="2.70" height="6.88" fill="#ff0468"/>
<line x1="18.87" y1="68.12" x2="18.87" y2="81.25" stroke="#3aa8a0" stroke-width="0.8"/>
<rect x="17.52" y="73.12" width="2.70" height="1.00" fill="#66ded4"/>
<line x1="23.14" y1="71.25" x2="23.14" y2="80.00" stroke="#c0105a" stroke-width="0.8"/>
<rect x="21.79" y="73.12" width="2.70" height="5.00" fill="#ff0468"/>
<line x1="27.41" y1="70.00" x2="27.41" y2="79.38" stroke="#3aa8a0" stroke-width="0.8"/>
<rect x="26.06" y="70.62" width="2.70" height="8.12" fill="#66ded4"/>
<line x1="31.68" y1="66.25" x2="31.68" y2="74.38" stroke="#3aa8a0" stroke-width="0.8"/>
<rect x="30.33" y="66.88" width="2.70" height="4.38" fill="#66ded4"/>
<line x1="35.94" y1="65.00" x2="35.94" y2="71.25" stroke="#3aa8a0" stroke-width="0.8"/>
<rect x="34.59" y="66.25" width="2.70" height="1.25" fill="#66ded4"/>
<line x1="40.21" y1="58.75" x2="40.21" y2="71.25" stroke="#3aa8a0" stroke-width="0.8"/>
<rect x="38.86" y="59.38" width="2.70" height="7.50" fill="#66ded4"/>
<line x1="44.48" y1="56.88" x2="44.48" y2="64.38" stroke="#3aa8a0" stroke-width="0.8"/>
<rect x="43.13" y="58.75" width="2.70" height="1.25" fill="#66ded4"/>
<line x1="48.75" y1="58.75" x2="48.75" y2="66.25" stroke="#c0105a" stroke-width="0.8"/>
<rect x="47.40" y="59.00" width="2.70" height="3.25" fill="#ff0468"/>
<line x1="53.02" y1="60.62" x2="53.02" y2="71.25" stroke="#c0105a" stroke-width="0.8"/>
<rect x="51.67" y="61.25" width="2.70" height="6.25" fill="#ff0468"/>
<line x1="57.28" y1="62.50" x2="57.28" y2="70.00" stroke="#3aa8a0" stroke-width="0.8"/>
<rect x="55.93" y="65.00" width="2.70" height="1.88" fill="#66ded4"/>
<line x1="61.55" y1="51.88" x2="61.55" y2="66.25" stroke="#3aa8a0" stroke-width="0.8"/>
<rect x="60.20" y="61.88" width="2.70" height="3.75" fill="#66ded4"/>
<line x1="65.82" y1="56.25" x2="65.82" y2="63.75" stroke="#3aa8a0" stroke-width="0.8"/>
<rect x="64.47" y="60.62" width="2.70" height="1.88" fill="#66ded4"/>
<line x1="70.09" y1="56.88" x2="70.09" y2="74.38" stroke="#c0105a" stroke-width="0.8"/>
<rect x="68.74" y="60.62" width="2.70" height="8.12" fill="#ff0468"/>
<line x1="74.36" y1="64.38" x2="74.36" y2="80.62" stroke="#c0105a" stroke-width="0.8"/>
<rect x="73.01" y="68.12" width="2.70" height="6.25" fill="#ff0468"/>
<line x1="78.62" y1="59.38" x2="78.62" y2="80.00" stroke="#3aa8a0" stroke-width="0.8"/>
<rect x="77.27" y="65.62" width="2.70" height="8.12" fill="#66ded4"/>
<line x1="82.89" y1="60.00" x2="82.89" y2="70.00" stroke="#3aa8a0" stroke-width="0.8"/>
<rect x="81.54" y="62.75" width="2.70" height="3.50" fill="#66ded4"/>
<line x1="87.16" y1="60.00" x2="87.16" y2="65.00" stroke="#c0105a" stroke-width="0.8"/>
<rect x="85.81" y="62.50" width="2.70" height="1.88" fill="#ff0468"/>
<line x1="91.43" y1="58.75" x2="91.43" y2="65.62" stroke="#3aa8a0" stroke-width="0.8"/>
<rect x="90.08" y="59.38" width="2.70" height="4.38" fill="#66ded4"/>
<line x1="95.70" y1="58.12" x2="95.70" y2="63.12" stroke="#3aa8a0" stroke-width="0.8"/>
<rect x="94.35" y="59.38" width="2.70" height="1.25" fill="#66ded4"/>
<line x1="99.96" y1="51.88" x2="99.96" y2="60.62" stroke="#3aa8a0" stroke-width="0.8"/>
<rect x="98.61" y="52.50" width="2.70" height="7.50" fill="#66ded4"/>
<line x1="104.23" y1="45.00" x2="104.23" y2="54.38" stroke="#3aa8a0" stroke-width="0.8"/>
<rect x="102.88" y="51.88" width="2.70" height="1.88" fill="#66ded4"/>
<line x1="108.50" y1="47.50" x2="108.50" y2="53.75" stroke="#3aa8a0" stroke-width="0.8"/>
<rect x="107.15" y="48.12" width="2.70" height="5.00" fill="#66ded4"/>
<line x1="112.77" y1="48.12" x2="112.77" y2="51.88" stroke="#c0105a" stroke-width="0.8"/>
<rect x="111.42" y="48.12" width="2.70" height="3.75" fill="#ff0468"/>
<line x1="117.04" y1="45.00" x2="117.04" y2="51.88" stroke="#3aa8a0" stroke-width="0.8"/>
<rect x="115.69" y="45.00" width="2.70" height="6.88" fill="#66ded4"/>
<line x1="121.30" y1="36.88" x2="121.30" y2="54.38" stroke="#3aa8a0" stroke-width="0.8"/>
<rect x="119.95" y="40.00" width="2.70" height="5.62" fill="#66ded4"/>
<line x1="125.57" y1="36.25" x2="125.57" y2="46.25" stroke="#c0105a" stroke-width="0.8"/>
<rect x="124.22" y="40.00" width="2.70" height="4.38" fill="#ff0468"/>
<line x1="129.84" y1="39.38" x2="129.84" y2="45.00" stroke="#c0105a" stroke-width="0.8"/>
<rect x="128.49" y="42.75" width="2.70" height="1.62" fill="#ff0468"/>
<line x1="134.11" y1="42.50" x2="134.11" y2="50.00" stroke="#c0105a" stroke-width="0.8"/>
<rect x="132.76" y="43.50" width="2.70" height="2.75" fill="#ff0468"/>
<line x1="138.38" y1="41.88" x2="138.38" y2="46.88" stroke="#3aa8a0" stroke-width="0.8"/>
<rect x="137.03" y="42.75" width="2.70" height="3.75" fill="#66ded4"/>
<line x1="142.64" y1="42.75" x2="142.64" y2="49.00" stroke="#c0105a" stroke-width="0.8"/>
<rect x="141.29" y="43.12" width="2.70" height="5.62" fill="#ff0468"/>
<line x1="146.91" y1="41.88" x2="146.91" y2="52.50" stroke="#3aa8a0" stroke-width="0.8"/>
<rect x="145.56" y="43.12" width="2.70" height="5.62" fill="#66ded4"/>
<line x1="151.18" y1="41.88" x2="151.18" y2="49.75" stroke="#c0105a" stroke-width="0.8"/>
<rect x="149.83" y="42.75" width="2.70" height="2.00" fill="#ff0468"/>
<line x1="155.45" y1="43.50" x2="155.45" y2="56.50" stroke="#c0105a" stroke-width="0.8"/>
<rect x="154.10" y="44.00" width="2.70" height="9.75" fill="#ff0468"/>
<line x1="159.72" y1="52.50" x2="159.72" y2="65.62" stroke="#c0105a" stroke-width="0.8"/>
<rect x="158.37" y="53.12" width="2.70" height="8.75" fill="#ff0468"/>
<line x1="163.98" y1="56.88" x2="163.98" y2="67.50" stroke="#3aa8a0" stroke-width="0.8"/>
<rect x="162.63" y="57.75" width="2.70" height="3.50" fill="#66ded4"/>
<line x1="168.25" y1="54.38" x2="168.25" y2="63.75" stroke="#3aa8a0" stroke-width="0.8"/>
<rect x="166.90" y="55.00" width="2.70" height="3.75" fill="#66ded4"/>
<line x1="172.52" y1="43.75" x2="172.52" y2="56.88" stroke="#3aa8a0" stroke-width="0.8"/>
<rect x="171.17" y="46.88" width="2.70" height="8.75" fill="#66ded4"/>
<line x1="176.79" y1="42.75" x2="176.79" y2="55.00" stroke="#c0105a" stroke-width="0.8"/>
<rect x="175.44" y="46.00" width="2.70" height="1.75" fill="#ff0468"/>
<line x1="181.06" y1="27.50" x2="181.06" y2="50.00" stroke="#3aa8a0" stroke-width="0.8"/>
<rect x="179.71" y="30.00" width="2.70" height="17.50" fill="#66ded4"/>
<line x1="185.32" y1="25.00" x2="185.32" y2="36.88" stroke="#3aa8a0" stroke-width="0.8"/>
<rect x="183.97" y="25.62" width="2.70" height="4.38" fill="#66ded4"/>
<line x1="189.59" y1="21.88" x2="189.59" y2="31.25" stroke="#3aa8a0" stroke-width="0.8"/>
<rect x="188.24" y="25.25" width="2.70" height="1.00" fill="#66ded4"/>
<line x1="193.86" y1="24.75" x2="193.86" y2="40.62" stroke="#c0105a" stroke-width="0.8"/>
<rect x="192.51" y="25.00" width="2.70" height="11.88" fill="#ff0468"/>
<line x1="198.13" y1="20.00" x2="198.13" y2="78.12" stroke="#c0105a" stroke-width="0.8"/>
<rect x="196.78" y="36.88" width="2.70" height="38.12" fill="#ff0468"/>
<line x1="202.40" y1="62.50" x2="202.40" y2="76.25" stroke="#3aa8a0" stroke-width="0.8"/>
<rect x="201.05" y="68.75" width="2.70" height="6.25" fill="#66ded4"/>
<line x1="206.66" y1="63.12" x2="206.66" y2="72.50" stroke="#c0105a" stroke-width="0.8"/>
<rect x="205.31" y="69.00" width="2.70" height="2.25" fill="#ff0468"/>
<line x1="210.93" y1="65.62" x2="210.93" y2="71.88" stroke="#3aa8a0" stroke-width="0.8"/>
<rect x="209.58" y="66.00" width="2.70" height="5.88" fill="#66ded4"/>
<line x1="215.20" y1="65.62" x2="215.20" y2="71.88" stroke="#c0105a" stroke-width="0.8"/>
<rect x="213.85" y="66.00" width="2.70" height="5.88" fill="#ff0468"/>
<line x1="219.47" y1="71.00" x2="219.47" y2="91.25" stroke="#c0105a" stroke-width="0.8"/>
<rect x="218.12" y="71.25" width="2.70" height="18.12" fill="#ff0468"/>
<line x1="223.74" y1="72.50" x2="223.74" y2="93.12" stroke="#3aa8a0" stroke-width="0.8"/>
<rect x="222.39" y="86.25" width="2.70" height="2.50" fill="#66ded4"/>
<line x1="228.00" y1="86.25" x2="228.00" y2="141.00" stroke="#c0105a" stroke-width="0.8"/>
<rect x="226.65" y="86.25" width="2.70" height="37.75" fill="#ff0468"/>
<line x1="232.27" y1="116.88" x2="232.27" y2="130.00" stroke="#c0105a" stroke-width="0.8"/>
<rect x="230.92" y="124.00" width="2.70" height="3.50" fill="#ff0468"/>
<line x1="236.54" y1="123.75" x2="236.54" y2="132.00" stroke="#c0105a" stroke-width="0.8"/>
<rect x="235.19" y="126.88" width="2.70" height="1.25" fill="#ff0468"/>
<line x1="240.81" y1="120.62" x2="240.81" y2="128.75" stroke="#3aa8a0" stroke-width="0.8"/>
<rect x="239.46" y="121.50" width="2.70" height="6.62" fill="#66ded4"/>
<line x1="245.08" y1="115.62" x2="245.08" y2="130.00" stroke="#c0105a" stroke-width="0.8"/>
<rect x="243.73" y="122.50" width="2.70" height="5.62" fill="#ff0468"/>
<line x1="249.34" y1="118.12" x2="249.34" y2="132.00" stroke="#3aa8a0" stroke-width="0.8"/>
<rect x="247.99" y="121.00" width="2.70" height="7.12" fill="#66ded4"/>
<line x1="253.61" y1="105.00" x2="253.61" y2="124.38" stroke="#3aa8a0" stroke-width="0.8"/>
<rect x="252.26" y="116.25" width="2.70" height="5.62" fill="#66ded4"/>
<line x1="257.88" y1="113.75" x2="257.88" y2="131.25" stroke="#c0105a" stroke-width="0.8"/>
<rect x="256.53" y="116.00" width="2.70" height="14.62" fill="#ff0468"/>
<line x1="262.15" y1="123.12" x2="262.15" y2="132.00" stroke="#3aa8a0" stroke-width="0.8"/>
<rect x="260.80" y="124.00" width="2.70" height="6.62" fill="#66ded4"/>
<line x1="266.42" y1="111.25" x2="266.42" y2="125.62" stroke="#3aa8a0" stroke-width="0.8"/>
<rect x="265.07" y="116.00" width="2.70" height="9.00" fill="#66ded4"/>
<line x1="270.68" y1="107.50" x2="270.68" y2="118.12" stroke="#3aa8a0" stroke-width="0.8"/>
<rect x="269.33" y="109.75" width="2.70" height="7.50" fill="#66ded4"/>
<line x1="274.95" y1="107.50" x2="274.95" y2="169.38" stroke="#c0105a" stroke-width="0.8"/>
<rect x="273.60" y="109.38" width="2.70" height="51.25" fill="#ff0468"/>
<line x1="279.22" y1="151.25" x2="279.22" y2="180.00" stroke="#3aa8a0" stroke-width="0.8"/>
<rect x="277.87" y="160.25" width="2.70" height="1.00" fill="#66ded4"/>
<line x1="283.49" y1="158.12" x2="283.49" y2="171.25" stroke="#c0105a" stroke-width="0.8"/>
<rect x="282.14" y="160.62" width="2.70" height="10.38" fill="#ff0468"/>
<line x1="287.76" y1="163.12" x2="287.76" y2="180.62" stroke="#c0105a" stroke-width="0.8"/>
<rect x="286.41" y="170.00" width="2.70" height="5.00" fill="#ff0468"/>
<line x1="292.02" y1="164.38" x2="292.02" y2="174.38" stroke="#3aa8a0" stroke-width="0.8"/>
<rect x="290.67" y="171.25" width="2.70" height="2.75" fill="#66ded4"/>
<line x1="296.29" y1="170.62" x2="296.29" y2="178.75" stroke="#c0105a" stroke-width="0.8"/>
<rect x="294.94" y="171.00" width="2.70" height="2.50" fill="#ff0468"/>
<line x1="300.56" y1="167.50" x2="300.56" y2="180.25" stroke="#c0105a" stroke-width="0.8"/>
<rect x="299.21" y="173.75" width="2.70" height="6.25" fill="#ff0468"/>
<line x1="304.83" y1="179.38" x2="304.83" y2="187.50" stroke="#c0105a" stroke-width="0.8"/>
<rect x="303.48" y="179.75" width="2.70" height="3.00" fill="#ff0468"/>
<line x1="309.10" y1="182.50" x2="309.10" y2="187.50" stroke="#c0105a" stroke-width="0.8"/>
<rect x="307.75" y="183.12" width="2.70" height="1.00" fill="#ff0468"/>
<line x1="313.36" y1="179.38" x2="313.36" y2="185.62" stroke="#3aa8a0" stroke-width="0.8"/>
<rect x="312.01" y="180.62" width="2.70" height="4.38" fill="#66ded4"/>
<line x1="317.63" y1="166.25" x2="317.63" y2="185.25" stroke="#c0105a" stroke-width="0.8"/>
<rect x="316.28" y="181.88" width="2.70" height="3.12" fill="#ff0468"/>
<line x1="321.90" y1="171.00" x2="321.90" y2="185.25" stroke="#3aa8a0" stroke-width="0.8"/>
<rect x="320.55" y="176.25" width="2.70" height="8.75" fill="#66ded4"/>
<line x1="326.17" y1="162.50" x2="326.17" y2="182.50" stroke="#3aa8a0" stroke-width="0.8"/>
<rect x="324.82" y="171.00" width="2.70" height="5.88" fill="#66ded4"/>
<line x1="330.44" y1="167.25" x2="330.44" y2="176.88" stroke="#c0105a" stroke-width="0.8"/>
<rect x="329.09" y="171.00" width="2.70" height="1.25" fill="#ff0468"/>
<line x1="334.70" y1="171.25" x2="334.70" y2="185.62" stroke="#c0105a" stroke-width="0.8"/>
<rect x="333.35" y="171.88" width="2.70" height="10.00" fill="#ff0468"/>
<line x1="338.97" y1="180.00" x2="338.97" y2="251.88" stroke="#c0105a" stroke-width="0.8"/>
<rect x="337.62" y="182.25" width="2.70" height="57.75" fill="#ff0468"/>
<line x1="343.24" y1="224.38" x2="343.24" y2="245.00" stroke="#3aa8a0" stroke-width="0.8"/>
<rect x="341.89" y="228.12" width="2.70" height="11.88" fill="#66ded4"/>
<line x1="347.51" y1="228.50" x2="347.51" y2="261.25" stroke="#c0105a" stroke-width="0.8"/>
<rect x="346.16" y="228.50" width="2.70" height="18.38" fill="#ff0468"/>
<line x1="351.78" y1="241.88" x2="351.78" y2="275.00" stroke="#c0105a" stroke-width="0.8"/>
<rect x="350.43" y="246.88" width="2.70" height="24.38" fill="#ff0468"/>
<line x1="356.04" y1="250.00" x2="356.04" y2="271.50" stroke="#3aa8a0" stroke-width="0.8"/>
<rect x="354.69" y="259.75" width="2.70" height="11.50" fill="#66ded4"/>
<line x1="360.31" y1="243.75" x2="360.31" y2="261.50" stroke="#3aa8a0" stroke-width="0.8"/>
<rect x="358.96" y="249.00" width="2.70" height="12.25" fill="#66ded4"/>
<line x1="364.58" y1="220.00" x2="364.58" y2="250.25" stroke="#3aa8a0" stroke-width="0.8"/>
<rect x="363.23" y="229.00" width="2.70" height="21.00" fill="#66ded4"/>
<line x1="368.85" y1="225.62" x2="368.85" y2="241.88" stroke="#c0105a" stroke-width="0.8"/>
<rect x="367.50" y="229.00" width="2.70" height="7.88" fill="#ff0468"/>
<line x1="373.12" y1="223.12" x2="373.12" y2="240.00" stroke="#3aa8a0" stroke-width="0.8"/>
<rect x="371.77" y="225.25" width="2.70" height="11.62" fill="#66ded4"/>
<line x1="377.38" y1="184.38" x2="377.38" y2="226.00" stroke="#3aa8a0" stroke-width="0.8"/>
<rect x="376.03" y="193.50" width="2.70" height="32.12" fill="#66ded4"/>
<line x1="381.65" y1="166.88" x2="381.65" y2="195.00" stroke="#3aa8a0" stroke-width="0.8"/>
<rect x="380.30" y="191.88" width="2.70" height="2.12" fill="#66ded4"/>
<line x1="385.92" y1="180.62" x2="385.92" y2="217.50" stroke="#c0105a" stroke-width="0.8"/>
<rect x="384.57" y="191.25" width="2.70" height="23.12" fill="#ff0468"/>
<line x1="390.19" y1="212.50" x2="390.19" y2="240.00" stroke="#c0105a" stroke-width="0.8"/>
<rect x="388.84" y="214.00" width="2.70" height="23.50" fill="#ff0468"/>
<line x1="394.46" y1="221.88" x2="394.46" y2="237.75" stroke="#3aa8a0" stroke-width="0.8"/>
<rect x="393.11" y="232.25" width="2.70" height="5.25" fill="#66ded4"/>
<line x1="398.72" y1="225.62" x2="398.72" y2="233.50" stroke="#3aa8a0" stroke-width="0.8"/>
<rect x="397.37" y="230.00" width="2.70" height="3.12" fill="#66ded4"/>
<line x1="402.99" y1="229.75" x2="402.99" y2="231.75" stroke="#c0105a" stroke-width="0.8"/>
<rect x="401.64" y="230.00" width="2.70" height="1.50" fill="#ff0468"/>
<line x1="407.26" y1="226.25" x2="407.26" y2="233.75" stroke="#3aa8a0" stroke-width="0.8"/>
<rect x="405.91" y="230.00" width="2.70" height="1.88" fill="#66ded4"/>
<line x1="411.53" y1="230.00" x2="411.53" y2="238.75" stroke="#c0105a" stroke-width="0.8"/>
<rect x="410.18" y="230.25" width="2.70" height="7.00" fill="#ff0468"/>
<line x1="415.80" y1="235.00" x2="415.80" y2="238.50" stroke="#c0105a" stroke-width="0.8"/>
<rect x="414.45" y="236.00" width="2.70" height="2.12" fill="#ff0468"/>
<line x1="420.06" y1="228.75" x2="420.06" y2="238.12" stroke="#3aa8a0" stroke-width="0.8"/>
<rect x="418.71" y="231.00" width="2.70" height="6.75" fill="#66ded4"/>
<line x1="424.33" y1="220.00" x2="424.33" y2="231.88" stroke="#3aa8a0" stroke-width="0.8"/>
<rect x="422.98" y="229.00" width="2.70" height="2.50" fill="#66ded4"/>
<line x1="428.60" y1="227.50" x2="428.60" y2="260.62" stroke="#c0105a" stroke-width="0.8"/>
<rect x="427.25" y="229.00" width="2.70" height="25.75" fill="#ff0468"/>
<line x1="432.87" y1="250.00" x2="432.87" y2="292.00" stroke="#c0105a" stroke-width="0.8"/>
<rect x="431.52" y="254.00" width="2.70" height="24.12" fill="#ff0468"/>
<line x1="437.14" y1="273.75" x2="437.14" y2="288.12" stroke="#c0105a" stroke-width="0.8"/>
<rect x="435.79" y="277.50" width="2.70" height="2.25" fill="#ff0468"/>
<line x1="441.40" y1="260.00" x2="441.40" y2="280.00" stroke="#3aa8a0" stroke-width="0.8"/>
<rect x="440.05" y="269.00" width="2.70" height="10.75" fill="#66ded4"/>
<line x1="445.67" y1="266.00" x2="445.67" y2="282.50" stroke="#3aa8a0" stroke-width="0.8"/>
<rect x="444.32" y="269.38" width="2.70" height="1.00" fill="#66ded4"/>
<line x1="449.94" y1="268.12" x2="449.94" y2="278.12" stroke="#c0105a" stroke-width="0.8"/>
<rect x="448.59" y="268.75" width="2.70" height="2.50" fill="#ff0468"/>
<line x1="454.21" y1="268.12" x2="454.21" y2="288.75" stroke="#c0105a" stroke-width="0.8"/>
<rect x="452.86" y="270.62" width="2.70" height="14.38" fill="#ff0468"/>
<line x1="458.48" y1="269.38" x2="458.48" y2="295.62" stroke="#3aa8a0" stroke-width="0.8"/>
<rect x="457.13" y="271.00" width="2.70" height="14.00" fill="#66ded4"/>
<line x1="462.74" y1="265.62" x2="462.74" y2="284.38" stroke="#c0105a" stroke-width="0.8"/>
<rect x="461.39" y="271.25" width="2.70" height="10.62" fill="#ff0468"/>
<line x1="467.01" y1="277.50" x2="467.01" y2="306.25" stroke="#c0105a" stroke-width="0.8"/>
<rect x="465.66" y="281.25" width="2.70" height="17.50" fill="#ff0468"/>
<line x1="471.28" y1="286.25" x2="471.28" y2="306.25" stroke="#3aa8a0" stroke-width="0.8"/>
<rect x="469.93" y="286.88" width="2.70" height="11.88" fill="#66ded4"/>
<line x1="475.55" y1="274.00" x2="475.55" y2="290.25" stroke="#3aa8a0" stroke-width="0.8"/>
<rect x="474.20" y="277.75" width="2.70" height="9.50" fill="#66ded4"/>
<line x1="479.82" y1="273.50" x2="479.82" y2="297.25" stroke="#c0105a" stroke-width="0.8"/>
<rect x="478.47" y="277.75" width="2.70" height="19.12" fill="#ff0468"/>
<line x1="484.08" y1="294.38" x2="484.08" y2="310.00" stroke="#c0105a" stroke-width="0.8"/>
<rect x="482.73" y="296.25" width="2.70" height="6.88" fill="#ff0468"/>
<line x1="488.35" y1="279.38" x2="488.35" y2="314.38" stroke="#c0105a" stroke-width="0.8"/>
<rect x="487.00" y="302.25" width="2.70" height="7.75" fill="#ff0468"/>
<line x1="492.62" y1="303.12" x2="492.62" y2="320.62" stroke="#3aa8a0" stroke-width="0.8"/>
<rect x="491.27" y="308.75" width="2.70" height="1.00" fill="#66ded4"/>
<line x1="496.89" y1="305.00" x2="496.89" y2="313.75" stroke="#c0105a" stroke-width="0.8"/>
<rect x="495.54" y="308.75" width="2.70" height="3.12" fill="#ff0468"/>
<line x1="501.16" y1="302.50" x2="501.16" y2="312.50" stroke="#3aa8a0" stroke-width="0.8"/>
<rect x="499.81" y="303.12" width="2.70" height="8.75" fill="#66ded4"/>
<line x1="505.42" y1="300.00" x2="505.42" y2="310.62" stroke="#c0105a" stroke-width="0.8"/>
<rect x="504.07" y="303.12" width="2.70" height="6.88" fill="#ff0468"/>
<line x1="509.69" y1="307.50" x2="509.69" y2="318.75" stroke="#c0105a" stroke-width="0.8"/>
<rect x="508.34" y="308.75" width="2.70" height="9.38" fill="#ff0468"/>
<line x1="513.96" y1="316.88" x2="513.96" y2="320.62" stroke="#c0105a" stroke-width="0.8"/>
<rect x="512.61" y="317.25" width="2.70" height="2.75" fill="#ff0468"/>
<line x1="518.23" y1="311.25" x2="518.23" y2="320.62" stroke="#3aa8a0" stroke-width="0.8"/>
<rect x="516.88" y="317.25" width="2.70" height="2.75" fill="#66ded4"/>
<line x1="522.50" y1="313.12" x2="522.50" y2="326.88" stroke="#c0105a" stroke-width="0.8"/>
<rect x="521.15" y="317.25" width="2.70" height="5.88" fill="#ff0468"/>
<line x1="526.76" y1="315.62" x2="526.76" y2="331.88" stroke="#c0105a" stroke-width="0.8"/>
<rect x="525.41" y="321.88" width="2.70" height="8.12" fill="#ff0468"/>
<line x1="531.03" y1="323.75" x2="531.03" y2="356.25" stroke="#c0105a" stroke-width="0.8"/>
<rect x="529.68" y="329.38" width="2.70" height="24.62" fill="#ff0468"/>
<line x1="535.30" y1="352.50" x2="535.30" y2="368.12" stroke="#c0105a" stroke-width="0.8"/>
<rect x="533.95" y="354.00" width="2.70" height="13.50" fill="#ff0468"/>
<line x1="539.57" y1="360.00" x2="539.57" y2="368.12" stroke="#c0105a" stroke-width="0.8"/>
<rect x="538.22" y="366.88" width="2.70" height="1.00" fill="#ff0468"/>
<line x1="543.84" y1="353.12" x2="543.84" y2="368.12" stroke="#3aa8a0" stroke-width="0.8"/>
<rect x="542.49" y="357.75" width="2.70" height="9.75" fill="#66ded4"/>
<line x1="548.10" y1="357.50" x2="548.10" y2="365.62" stroke="#c0105a" stroke-width="0.8"/>
<rect x="546.75" y="357.75" width="2.70" height="7.25" fill="#ff0468"/>
<line x1="552.37" y1="364.38" x2="552.37" y2="369.38" stroke="#c0105a" stroke-width="0.8"/>
<rect x="551.02" y="364.75" width="2.70" height="4.00" fill="#ff0468"/>
<line x1="556.64" y1="346.88" x2="556.64" y2="369.38" stroke="#3aa8a0" stroke-width="0.8"/>
<rect x="555.29" y="356.88" width="2.70" height="11.88" fill="#66ded4"/>
<line x1="560.91" y1="353.12" x2="560.91" y2="365.00" stroke="#c0105a" stroke-width="0.8"/>
<rect x="559.56" y="356.88" width="2.70" height="3.12" fill="#ff0468"/>
<line x1="565.18" y1="340.00" x2="565.18" y2="362.50" stroke="#3aa8a0" stroke-width="0.8"/>
<rect x="563.83" y="356.88" width="2.70" height="3.12" fill="#66ded4"/>
<line x1="569.44" y1="347.50" x2="569.44" y2="366.88" stroke="#c0105a" stroke-width="0.8"/>
<rect x="568.09" y="356.88" width="2.70" height="4.12" fill="#ff0468"/>
<line x1="573.71" y1="350.00" x2="573.71" y2="361.50" stroke="#3aa8a0" stroke-width="0.8"/>
<rect x="572.36" y="350.62" width="2.70" height="10.38" fill="#66ded4"/>
<line x1="577.98" y1="347.50" x2="577.98" y2="358.12" stroke="#c0105a" stroke-width="0.8"/>
<rect x="576.63" y="350.62" width="2.70" height="1.25" fill="#ff0468"/>
<line x1="582.25" y1="346.88" x2="582.25" y2="365.00" stroke="#c0105a" stroke-width="0.8"/>
<rect x="580.90" y="351.25" width="2.70" height="12.50" fill="#ff0468"/>
<line x1="586.52" y1="325.00" x2="586.52" y2="365.00" stroke="#3aa8a0" stroke-width="0.8"/>
<rect x="585.17" y="329.75" width="2.70" height="34.00" fill="#66ded4"/>
<line x1="590.78" y1="308.10" x2="590.78" y2="335.00" stroke="#3aa8a0" stroke-width="0.8"/>
<rect x="589.43" y="313.50" width="2.70" height="16.25" fill="#66ded4"/>
<line x1="595.05" y1="279.38" x2="595.05" y2="315.00" stroke="#3aa8a0" stroke-width="0.8"/>
<rect x="593.70" y="283.75" width="2.70" height="30.62" fill="#66ded4"/>
<line x1="599.32" y1="279.00" x2="599.32" y2="293.12" stroke="#c0105a" stroke-width="0.8"/>
<rect x="597.97" y="284.00" width="2.70" height="2.50" fill="#ff0468"/>
<line x1="603.59" y1="251.62" x2="603.59" y2="288.75" stroke="#3aa8a0" stroke-width="0.8"/>
<rect x="602.24" y="259.12" width="2.70" height="27.12" fill="#66ded4"/>
<line x1="607.86" y1="248.50" x2="607.86" y2="260.38" stroke="#3aa8a0" stroke-width="0.8"/>
<rect x="606.51" y="249.12" width="2.70" height="10.88" fill="#66ded4"/>
<line x1="612.12" y1="244.12" x2="612.12" y2="262.88" stroke="#3aa8a0" stroke-width="0.8"/>
<rect x="610.77" y="244.50" width="2.70" height="5.25" fill="#66ded4"/>
<line x1="616.39" y1="238.50" x2="616.39" y2="245.38" stroke="#3aa8a0" stroke-width="0.8"/>
<rect x="615.04" y="239.12" width="2.70" height="5.88" fill="#66ded4"/>
<line x1="620.66" y1="238.25" x2="620.66" y2="241.25" stroke="#7a3cd0" stroke-width="0.8"/>
<line x1="619.36" y1="239.50" x2="621.96" y2="239.50" stroke="#7a3cd0" stroke-width="1"/>
<line x1="624.93" y1="234.12" x2="624.93" y2="255.38" stroke="#c0105a" stroke-width="0.8"/>
<rect x="623.58" y="239.12" width="2.70" height="10.00" fill="#ff0468"/>
<line x1="629.20" y1="217.25" x2="629.20" y2="249.50" stroke="#3aa8a0" stroke-width="0.8"/>
<rect x="627.85" y="230.00" width="2.70" height="19.12" fill="#66ded4"/>
<line x1="633.46" y1="201.62" x2="633.46" y2="235.00" stroke="#3aa8a0" stroke-width="0.8"/>
<rect x="632.11" y="207.25" width="2.70" height="23.50" fill="#66ded4"/>
<line x1="637.73" y1="204.75" x2="637.73" y2="227.88" stroke="#c0105a" stroke-width="0.8"/>
<rect x="636.38" y="207.25" width="2.70" height="9.38" fill="#ff0468"/>
<line x1="642.00" y1="214.75" x2="642.00" y2="247.25" stroke="#c0105a" stroke-width="0.8"/>
<rect x="640.65" y="216.25" width="2.70" height="25.38" fill="#ff0468"/>
<line x1="646.27" y1="236.62" x2="646.27" y2="271.88" stroke="#c0105a" stroke-width="0.8"/>
<rect x="644.92" y="241.00" width="2.70" height="27.75" fill="#ff0468"/>
<line x1="650.54" y1="257.00" x2="650.54" y2="285.62" stroke="#3aa8a0" stroke-width="0.8"/>
<rect x="649.19" y="261.88" width="2.70" height="6.88" fill="#66ded4"/>
<line x1="654.80" y1="236.00" x2="654.80" y2="263.75" stroke="#3aa8a0" stroke-width="0.8"/>
<rect x="653.45" y="236.25" width="2.70" height="27.25" fill="#66ded4"/>
<line x1="659.07" y1="227.25" x2="659.07" y2="246.00" stroke="#c0105a" stroke-width="0.8"/>
<rect x="657.72" y="237.00" width="2.70" height="3.75" fill="#ff0468"/>
<line x1="663.34" y1="231.62" x2="663.34" y2="254.12" stroke="#3aa8a0" stroke-width="0.8"/>
<rect x="661.99" y="237.00" width="2.70" height="4.00" fill="#66ded4"/>
<line x1="667.61" y1="232.88" x2="667.61" y2="244.12" stroke="#c0105a" stroke-width="0.8"/>
<rect x="666.26" y="236.62" width="2.70" height="1.88" fill="#ff0468"/>
<line x1="671.88" y1="236.00" x2="671.88" y2="251.00" stroke="#c0105a" stroke-width="0.8"/>
<rect x="670.53" y="237.88" width="2.70" height="2.88" fill="#ff0468"/>
<line x1="676.14" y1="221.00" x2="676.14" y2="244.12" stroke="#3aa8a0" stroke-width="0.8"/>
<rect x="674.79" y="229.75" width="2.70" height="11.00" fill="#66ded4"/>
<line x1="680.41" y1="224.12" x2="680.41" y2="241.00" stroke="#3aa8a0" stroke-width="0.8"/>
<rect x="679.06" y="224.12" width="2.70" height="5.62" fill="#66ded4"/>
<line x1="684.68" y1="212.25" x2="684.68" y2="225.38" stroke="#3aa8a0" stroke-width="0.8"/>
<rect x="683.33" y="218.75" width="2.70" height="6.25" fill="#66ded4"/>
<line x1="688.95" y1="212.25" x2="688.95" y2="225.38" stroke="#c0105a" stroke-width="0.8"/>
<rect x="687.60" y="218.75" width="2.70" height="1.00" fill="#ff0468"/>
<line x1="693.22" y1="168.12" x2="693.22" y2="220.00" stroke="#3aa8a0" stroke-width="0.8"/>
<rect x="691.87" y="177.50" width="2.70" height="42.25" fill="#66ded4"/>
<line x1="697.48" y1="176.88" x2="697.48" y2="189.75" stroke="#c0105a" stroke-width="0.8"/>
<rect x="696.13" y="177.50" width="2.70" height="9.38" fill="#ff0468"/>
<line x1="701.75" y1="186.25" x2="701.75" y2="210.00" stroke="#c0105a" stroke-width="0.8"/>
<rect x="700.40" y="186.88" width="2.70" height="4.38" fill="#ff0468"/>
<line x1="706.02" y1="189.38" x2="706.02" y2="196.88" stroke="#c0105a" stroke-width="0.8"/>
<rect x="704.67" y="190.62" width="2.70" height="5.62" fill="#ff0468"/>
<line x1="710.29" y1="187.75" x2="710.29" y2="197.50" stroke="#3aa8a0" stroke-width="0.8"/>
<rect x="708.94" y="191.25" width="2.70" height="5.00" fill="#66ded4"/>
<line x1="714.56" y1="187.75" x2="714.56" y2="201.88" stroke="#c0105a" stroke-width="0.8"/>
<rect x="713.21" y="191.25" width="2.70" height="9.38" fill="#ff0468"/>
<line x1="718.82" y1="199.75" x2="718.82" y2="205.62" stroke="#c0105a" stroke-width="0.8"/>
<rect x="717.47" y="200.00" width="2.70" height="5.00" fill="#ff0468"/>
<line x1="723.09" y1="202.75" x2="723.09" y2="210.00" stroke="#c0105a" stroke-width="0.8"/>
<rect x="721.74" y="205.00" width="2.70" height="1.50" fill="#ff0468"/>
<line x1="727.36" y1="196.00" x2="727.36" y2="207.50" stroke="#3aa8a0" stroke-width="0.8"/>
<rect x="726.01" y="200.25" width="2.70" height="6.62" fill="#66ded4"/>
<line x1="731.63" y1="190.00" x2="731.63" y2="202.50" stroke="#7a3cd0" stroke-width="0.8"/>
<line x1="730.33" y1="201.00" x2="732.93" y2="201.00" stroke="#7a3cd0" stroke-width="1"/>
<line x1="735.90" y1="199.75" x2="735.90" y2="220.00" stroke="#c0105a" stroke-width="0.8"/>
<rect x="734.55" y="200.25" width="2.70" height="16.62" fill="#ff0468"/>
<line x1="740.16" y1="201.25" x2="740.16" y2="226.88" stroke="#3aa8a0" stroke-width="0.8"/>
<rect x="738.81" y="203.12" width="2.70" height="13.75" fill="#66ded4"/>
<line x1="744.43" y1="202.50" x2="744.43" y2="213.75" stroke="#c0105a" stroke-width="0.8"/>
<rect x="743.08" y="203.12" width="2.70" height="4.38" fill="#ff0468"/>
<line x1="748.70" y1="205.62" x2="748.70" y2="211.88" stroke="#c0105a" stroke-width="0.8"/>
<rect x="747.35" y="206.50" width="2.70" height="1.62" fill="#ff0468"/>
<line x1="752.97" y1="207.25" x2="752.97" y2="214.00" stroke="#c0105a" stroke-width="0.8"/>
<rect x="751.62" y="207.75" width="2.70" height="5.38" fill="#ff0468"/>
<line x1="757.24" y1="192.25" x2="757.24" y2="213.12" stroke="#3aa8a0" stroke-width="0.8"/>
<rect x="755.89" y="193.75" width="2.70" height="19.00" fill="#66ded4"/>
<line x1="761.50" y1="181.00" x2="761.50" y2="196.88" stroke="#3aa8a0" stroke-width="0.8"/>
<rect x="760.15" y="187.75" width="2.70" height="7.00" fill="#66ded4"/>
<line x1="765.77" y1="183.12" x2="765.77" y2="199.75" stroke="#c0105a" stroke-width="0.8"/>
<rect x="764.42" y="188.12" width="2.70" height="1.25" fill="#ff0468"/>
<line x1="770.04" y1="173.75" x2="770.04" y2="191.25" stroke="#3aa8a0" stroke-width="0.8"/>
<rect x="768.69" y="181.88" width="2.70" height="7.12" fill="#66ded4"/>
<line x1="774.31" y1="177.50" x2="774.31" y2="192.75" stroke="#c0105a" stroke-width="0.8"/>
<rect x="772.96" y="181.88" width="2.70" height="10.38" fill="#ff0468"/>
<line x1="778.58" y1="184.38" x2="778.58" y2="192.50" stroke="#3aa8a0" stroke-width="0.8"/>
<rect x="777.23" y="187.75" width="2.70" height="4.12" fill="#66ded4"/>
<line x1="782.84" y1="183.12" x2="782.84" y2="211.88" stroke="#c0105a" stroke-width="0.8"/>
<rect x="781.49" y="187.75" width="2.70" height="20.38" fill="#ff0468"/>
<line x1="787.11" y1="203.75" x2="787.11" y2="240.00" stroke="#c0105a" stroke-width="0.8"/>
<rect x="785.76" y="207.75" width="2.70" height="14.12" fill="#ff0468"/>
<line x1="791.38" y1="207.50" x2="791.38" y2="226.88" stroke="#c0105a" stroke-width="0.8"/>
<rect x="790.03" y="221.25" width="2.70" height="5.00" fill="#ff0468"/>
<line x1="795.65" y1="223.25" x2="795.65" y2="246.00" stroke="#c0105a" stroke-width="0.8"/>
<rect x="794.30" y="225.75" width="2.70" height="17.12" fill="#ff0468"/>
<line x1="799.92" y1="228.25" x2="799.92" y2="243.25" stroke="#3aa8a0" stroke-width="0.8"/>
<rect x="798.57" y="233.25" width="2.70" height="9.62" fill="#66ded4"/>
<line x1="804.18" y1="232.50" x2="804.18" y2="251.62" stroke="#c0105a" stroke-width="0.8"/>
<rect x="802.83" y="232.88" width="2.70" height="10.88" fill="#ff0468"/>
<line x1="808.45" y1="237.88" x2="808.45" y2="246.62" stroke="#3aa8a0" stroke-width="0.8"/>
<rect x="807.10" y="240.75" width="2.70" height="3.38" fill="#66ded4"/>
<line x1="812.72" y1="239.12" x2="812.72" y2="254.75" stroke="#c0105a" stroke-width="0.8"/>
<rect x="811.37" y="240.75" width="2.70" height="13.38" fill="#ff0468"/>
<line x1="816.99" y1="249.75" x2="816.99" y2="260.62" stroke="#c0105a" stroke-width="0.8"/>
<rect x="815.64" y="252.50" width="2.70" height="2.25" fill="#ff0468"/>
<line x1="821.26" y1="249.00" x2="821.26" y2="258.50" stroke="#3aa8a0" stroke-width="0.8"/>
<rect x="819.91" y="253.75" width="2.70" height="1.00" fill="#66ded4"/>
<line x1="825.52" y1="247.25" x2="825.52" y2="257.75" stroke="#3aa8a0" stroke-width="0.8"/>
<rect x="824.17" y="247.75" width="2.70" height="8.25" fill="#66ded4"/>
<line x1="829.79" y1="241.00" x2="829.79" y2="256.00" stroke="#c0105a" stroke-width="0.8"/>
<rect x="828.44" y="248.50" width="2.70" height="7.12" fill="#ff0468"/>
<line x1="834.06" y1="253.75" x2="834.06" y2="273.50" stroke="#c0105a" stroke-width="0.8"/>
<rect x="832.71" y="254.75" width="2.70" height="13.00" fill="#ff0468"/>
<line x1="838.33" y1="248.75" x2="838.33" y2="270.62" stroke="#3aa8a0" stroke-width="0.8"/>
<rect x="836.98" y="249.38" width="2.70" height="18.38" fill="#66ded4"/>
<line x1="842.60" y1="229.75" x2="842.60" y2="251.25" stroke="#3aa8a0" stroke-width="0.8"/>
<rect x="841.25" y="235.75" width="2.70" height="15.25" fill="#66ded4"/>
<line x1="846.86" y1="232.88" x2="846.86" y2="247.25" stroke="#3aa8a0" stroke-width="0.8"/>
<rect x="845.51" y="235.38" width="2.70" height="1.00" fill="#66ded4"/>
<line x1="851.13" y1="235.75" x2="851.13" y2="242.88" stroke="#c0105a" stroke-width="0.8"/>
<rect x="849.78" y="235.75" width="2.70" height="1.50" fill="#ff0468"/>
<line x1="855.40" y1="228.75" x2="855.40" y2="239.75" stroke="#3aa8a0" stroke-width="0.8"/>
<rect x="854.05" y="231.25" width="2.70" height="6.62" fill="#66ded4"/>
<line x1="859.67" y1="224.12" x2="859.67" y2="237.25" stroke="#c0105a" stroke-width="0.8"/>
<rect x="858.32" y="231.62" width="2.70" height="2.12" fill="#ff0468"/>
<line x1="863.94" y1="225.38" x2="863.94" y2="243.50" stroke="#c0105a" stroke-width="0.8"/>
<rect x="862.59" y="233.50" width="2.70" height="9.38" fill="#ff0468"/>
<line x1="868.20" y1="228.25" x2="868.20" y2="242.50" stroke="#3aa8a0" stroke-width="0.8"/>
<rect x="866.85" y="232.25" width="2.70" height="9.38" fill="#66ded4"/>
<line x1="872.47" y1="232.25" x2="872.47" y2="245.38" stroke="#c0105a" stroke-width="0.8"/>
<rect x="871.12" y="232.25" width="2.70" height="12.50" fill="#ff0468"/>
<line x1="876.74" y1="239.75" x2="876.74" y2="257.25" stroke="#c0105a" stroke-width="0.8"/>
<rect x="875.39" y="243.50" width="2.70" height="2.25" fill="#ff0468"/>
<line x1="881.01" y1="236.25" x2="881.01" y2="252.88" stroke="#3aa8a0" stroke-width="0.8"/>
<rect x="879.66" y="242.00" width="2.70" height="3.38" fill="#66ded4"/>
<line x1="885.28" y1="238.25" x2="885.28" y2="246.62" stroke="#3aa8a0" stroke-width="0.8"/>
<rect x="883.93" y="241.25" width="2.70" height="1.00" fill="#66ded4"/>
<line x1="889.54" y1="153.75" x2="889.54" y2="244.38" stroke="#3aa8a0" stroke-width="0.8"/>
<rect x="888.19" y="162.50" width="2.70" height="80.38" fill="#66ded4"/>
<line x1="893.81" y1="146.25" x2="893.81" y2="165.62" stroke="#3aa8a0" stroke-width="0.8"/>
<rect x="892.46" y="152.50" width="2.70" height="10.62" fill="#66ded4"/>
<line x1="898.08" y1="126.25" x2="898.08" y2="153.12" stroke="#3aa8a0" stroke-width="0.8"/>
<rect x="896.73" y="130.00" width="2.70" height="23.12" fill="#66ded4"/>
<line x1="902.35" y1="120.00" x2="902.35" y2="138.12" stroke="#c0105a" stroke-width="0.8"/>
<rect x="901.00" y="130.00" width="2.70" height="1.00" fill="#ff0468"/>
<line x1="906.62" y1="125.00" x2="906.62" y2="143.75" stroke="#c0105a" stroke-width="0.8"/>
<rect x="905.27" y="130.00" width="2.70" height="9.00" fill="#ff0468"/>
<line x1="910.88" y1="138.12" x2="910.88" y2="153.75" stroke="#c0105a" stroke-width="0.8"/>
<rect x="909.53" y="138.50" width="2.70" height="5.50" fill="#ff0468"/>
<line x1="915.15" y1="138.50" x2="915.15" y2="148.12" stroke="#3aa8a0" stroke-width="0.8"/>
<rect x="913.80" y="140.62" width="2.70" height="3.38" fill="#66ded4"/>
<line x1="919.42" y1="140.00" x2="919.42" y2="150.62" stroke="#c0105a" stroke-width="0.8"/>
<rect x="918.07" y="140.62" width="2.70" height="3.38" fill="#ff0468"/>
<line x1="923.69" y1="141.88" x2="923.69" y2="149.38" stroke="#c0105a" stroke-width="0.8"/>
<rect x="922.34" y="143.12" width="2.70" height="5.00" fill="#ff0468"/>
<line x1="927.96" y1="141.25" x2="927.96" y2="153.75" stroke="#3aa8a0" stroke-width="0.8"/>
<rect x="926.61" y="143.75" width="2.70" height="1.00" fill="#66ded4"/>
<line x1="932.22" y1="130.00" x2="932.22" y2="144.38" stroke="#3aa8a0" stroke-width="0.8"/>
<rect x="930.87" y="136.88" width="2.70" height="7.12" fill="#66ded4"/>
<line x1="936.49" y1="136.50" x2="936.49" y2="146.88" stroke="#c0105a" stroke-width="0.8"/>
<rect x="935.14" y="136.88" width="2.70" height="6.62" fill="#ff0468"/>
<line x1="940.76" y1="116.00" x2="940.76" y2="144.38" stroke="#3aa8a0" stroke-width="0.8"/>
<rect x="939.41" y="128.12" width="2.70" height="15.38" fill="#66ded4"/>
<line x1="945.03" y1="127.75" x2="945.03" y2="143.12" stroke="#c0105a" stroke-width="0.8"/>
<rect x="943.68" y="128.12" width="2.70" height="9.12" fill="#ff0468"/>
<line x1="949.30" y1="123.12" x2="949.30" y2="138.12" stroke="#3aa8a0" stroke-width="0.8"/>
<rect x="947.95" y="133.75" width="2.70" height="4.00" fill="#66ded4"/>
<line x1="953.56" y1="130.62" x2="953.56" y2="142.25" stroke="#c0105a" stroke-width="0.8"/>
<rect x="952.21" y="133.75" width="2.70" height="6.50" fill="#ff0468"/>
<line x1="957.83" y1="130.62" x2="957.83" y2="141.25" stroke="#3aa8a0" stroke-width="0.8"/>
<rect x="956.48" y="132.75" width="2.70" height="7.88" fill="#66ded4"/>
<line x1="962.10" y1="128.50" x2="962.10" y2="136.25" stroke="#c0105a" stroke-width="0.8"/>
<rect x="960.75" y="132.75" width="2.70" height="2.88" fill="#ff0468"/>
<line x1="966.37" y1="121.88" x2="966.37" y2="136.50" stroke="#3aa8a0" stroke-width="0.8"/>
<rect x="965.02" y="128.75" width="2.70" height="7.50" fill="#66ded4"/>
<line x1="970.64" y1="125.25" x2="970.64" y2="151.00" stroke="#c0105a" stroke-width="0.8"/>
<rect x="969.29" y="128.75" width="2.70" height="18.12" fill="#ff0468"/>
<line x1="974.90" y1="135.62" x2="974.90" y2="151.00" stroke="#3aa8a0" stroke-width="0.8"/>
<rect x="973.55" y="138.75" width="2.70" height="8.12" fill="#66ded4"/>
<line x1="979.17" y1="137.75" x2="979.17" y2="139.75" stroke="#3aa8a0" stroke-width="0.8"/>
<rect x="977.82" y="138.50" width="2.70" height="1.00" fill="#66ded4"/>
<polyline points="1.80,70.24 6.07,69.15 10.34,68.05 14.60,67.45 18.87,67.34 23.14,67.23 27.41,67.13 31.68,66.42 35.94,65.70 40.21,64.97 44.48,64.39 48.75,64.47 53.02,64.56 57.28,64.65 61.55,64.73 65.82,65.15 70.09,65.66 74.36,66.17 78.62,66.25 82.89,66.42 87.16,66.46 91.43,66.39 95.70,65.97 99.96,64.87 104.23,63.75 108.50,62.21 112.77,61.22 117.04,60.08 121.30,58.71 125.57,57.90 129.84,57.10 134.11,56.22 138.38,54.95 142.64,54.13 146.91,53.18 151.18,52.43 155.45,51.71 159.72,51.15 163.98,50.79 168.25,50.42 172.52,49.60 176.79,49.02 181.06,47.54 185.32,46.12 189.59,44.74 193.86,44.18 198.13,45.31 202.40,46.56 206.66,48.20 210.93,49.39 215.20,50.81 219.47,52.95 223.74,55.16 228.00,58.96 232.27,63.26 236.54,67.37 240.81,70.72 245.08,74.03 249.34,77.15 253.61,80.05 257.88,84.02 262.15,87.78 266.42,92.17 270.68,96.49 274.95,103.35 279.22,109.65 283.49,114.63 287.76,119.98 292.02,125.00 296.29,130.36 300.56,135.83 304.83,140.56 309.10,145.41 313.36,148.30 317.63,151.10 321.90,153.44 326.17,155.90 330.44,158.11 334.70,161.17 338.97,167.28 343.24,172.08 347.51,178.16 351.78,185.97 356.04,193.56 360.31,197.90 364.58,201.35 368.85,204.65 373.12,207.10 377.38,208.20 381.65,209.17 385.92,210.99 390.19,213.78 394.46,216.21 398.72,218.64 402.99,221.01 407.26,223.67 411.53,226.91 415.80,230.22 420.06,232.72 424.33,232.23 428.60,233.61 432.87,235.35 437.14,236.08 441.40,236.79 445.67,237.85 449.94,239.86 454.21,242.36 458.48,244.84 462.74,249.37 467.01,254.72 471.28,258.29 475.55,260.22 479.82,263.32 484.08,266.73 488.35,270.43 492.62,274.32 496.89,278.06 501.16,281.20 505.42,285.02 509.69,289.32 513.96,292.44 518.23,294.43 522.50,296.59 526.76,299.57 531.03,303.82 535.30,308.80 539.57,313.04 543.84,317.48 548.10,321.73 552.37,325.31 556.64,328.93 560.91,333.12 565.18,336.02 569.44,338.91 573.71,341.00 577.98,343.15 582.25,345.68 586.52,346.95 590.78,347.01 595.05,345.21 599.32,343.31 603.59,340.15 607.86,336.27 612.12,331.97 616.39,326.11 620.66,319.69 624.93,313.73 629.20,307.30 633.46,299.47 637.73,291.84 642.00,285.87 646.27,281.19 650.54,276.56 654.80,270.32 659.07,264.75 663.34,259.04 667.61,252.64 671.88,248.14 676.14,243.95 680.41,240.90 684.68,237.49 688.95,235.69 693.22,232.36 697.48,229.47 701.75,227.19 706.02,225.13 710.29,222.34 714.56,221.02 718.82,220.96 723.09,220.43 727.36,218.34 731.63,214.95 735.90,212.74 740.16,211.10 744.43,209.44 748.70,207.98 752.97,206.74 757.24,204.33 761.50,202.22 765.77,200.49 770.04,198.66 774.31,197.25 778.58,197.89 782.84,198.95 787.11,200.45 791.38,201.94 795.65,204.49 799.92,206.10 804.18,208.06 808.45,209.76 812.72,212.41 816.99,215.10 821.26,217.05 825.52,219.26 829.79,221.67 834.06,224.67 838.33,226.53 842.60,228.64 846.86,231.06 851.13,233.45 855.40,235.88 859.67,237.99 863.94,240.69 868.20,242.00 872.47,243.09 876.74,244.04 881.01,244.04 885.28,244.51 889.54,240.55 893.81,236.18 898.08,230.12 902.35,224.06 906.62,218.36 910.88,213.22 915.15,207.25 919.42,201.03 923.69,195.88 927.96,191.15 932.22,186.00 936.49,181.13 940.76,175.75 945.03,170.72 949.30,165.15 953.56,160.39 957.83,154.72 962.10,149.04 966.37,143.88 970.64,139.87 974.90,138.75 979.17,138.75" fill="none" stroke="#9e9ea8" stroke-width="1.3" stroke-linejoin="round"/>
</g>
<polyline points="1.88,431.25 6.56,431.25 14.06,438.38 17.81,438.75 22.88,441.00 27.19,436.50 31.88,434.06 35.63,433.50 40.31,429.00 43.50,428.44 47.81,429.75 53.44,434.25 58.13,432.75 62.81,430.31 66.00,430.31 70.88,436.88 74.63,439.69 78.75,432.75 82.50,431.63 87.75,431.63 91.88,429.38 96.56,428.81 100.31,424.31 104.06,424.31 108.38,422.25 112.50,424.88 116.25,421.50 120.94,418.50 125.25,421.88 129.38,422.25 133.50,424.31 138.38,422.81 142.50,427.50 147.19,424.69 150.94,425.25 155.25,433.50 159.38,439.13 164.06,435.94 168.75,434.06 172.50,428.81 177.19,428.44 180.94,420.00 184.69,418.13 188.44,417.75 192.94,423.94 197.63,443.44 201.38,441.56 206.63,441.56 210.75,439.31 214.50,440.63 219.19,446.25 222.94,445.50 227.63,453.75 237.00,453.75 241.13,451.50 245.06,452.25 252.94,446.25 257.63,449.63 262.31,445.88 267.00,441.56 270.38,439.69 274.50,450.38 278.25,450.56 283.88,452.81 288.56,452.44 292.31,451.31 296.06,451.50 300.75,453.00 309.19,453.38 312.94,452.25 317.63,453.00 323.25,447.19 327.94,444.38 330.75,444.75 334.50,447.19 339.19,458.44 343.50,453.38 351.38,457.50 359.81,450.00 364.50,443.44 368.25,444.75 372.94,441.00 377.63,432.75 381.38,432.75 384.00,435.00 390.56,441.00 395.25,440.25 400.88,439.69 406.50,439.88 412.13,441.56 416.25,441.56 420.56,438.75 424.31,438.75 432.75,449.06 436.50,449.06 441.19,445.31 449.63,445.31 453.75,449.06 458.63,443.06 466.50,449.06 471.19,444.38 475.50,441.19 480.56,444.94 487.13,447.19 496.50,447.19 501.19,444.38 509.25,447.56 513.38,447.38 518.06,446.63 522.75,448.13 527.44,450.00 533.06,455.25 538.69,456.19 543.38,452.25 548.06,453.38 551.81,453.38 556.13,448.13 562.13,447.38 569.63,447.19 575.16,442.69 582.00,445.88 586.31,433.13 590.06,428.44 594.75,421.50 599.44,421.88 603.19,417.75 607.88,415.50 612.56,414.94 616.31,414.38 620.06,414.00 624.75,418.13 633.19,412.50 637.88,416.25 646.31,430.88 651.00,429.94 654.75,424.69 660.38,425.25 667.88,425.63 672.56,426.00 678.19,423.38 682.88,421.88 689.44,421.88 693.19,414.38 698.81,418.13 705.38,420.38 710.06,420.38 718.50,425.06 724.13,425.06 730.69,424.13 735.38,430.31 740.06,427.13 744.75,428.44 748.50,428.44 753.19,430.50 757.50,424.69 761.63,423.38 768.00,422.25 774.56,426.00 778.31,425.25 783.00,433.13 786.75,437.25 791.44,438.75 795.75,442.88 799.88,439.69 804.56,442.13 808.31,441.19 813.00,444.38 820.50,444.38 825.19,441.56 828.94,442.88 833.63,446.81 838.31,439.13 843.00,434.06 851.44,434.06 855.19,432.75 859.88,433.13 863.63,435.94 868.31,432.75 873.00,437.25 877.69,437.25 881.44,435.38 885.19,435.38 888.94,415.31 894.81,413.13 901.31,411.16 906.00,414.38 910.13,416.25 916.84,416.38 923.56,419.41 927.25,418.50 931.69,417.53 936.00,419.38 940.38,416.50 944.75,420.00 949.75,420.25 953.50,422.50 957.25,421.25 963.50,421.88 966.00,420.25 970.38,427.50 974.75,425.62 979.12,425.62" fill="none" stroke="#4cc8c8" stroke-width="1.1" stroke-linejoin="round"/>
<line x1="104.23" y1="514.40" x2="104.23" y2="512.31" stroke="#7a7a92" stroke-width="0.7"/>
<line x1="108.50" y1="514.40" x2="108.50" y2="511.38" stroke="#7a7a92" stroke-width="0.7"/>
<line x1="112.77" y1="514.40" x2="112.77" y2="510.44" stroke="#7a7a92" stroke-width="0.7"/>
<line x1="117.04" y1="514.40" x2="117.04" y2="510.44" stroke="#7a7a92" stroke-width="0.7"/>
<line x1="121.30" y1="514.40" x2="121.30" y2="509.50" stroke="#7a7a92" stroke-width="0.7"/>
<line x1="125.57" y1="514.40" x2="125.57" y2="508.56" stroke="#7a7a92" stroke-width="0.7"/>
<line x1="129.84" y1="514.40" x2="129.84" y2="508.00" stroke="#7a7a92" stroke-width="0.7"/>
<line x1="134.11" y1="514.40" x2="134.11" y2="507.25" stroke="#7a7a92" stroke-width="0.7"/>
<line x1="138.38" y1="514.40" x2="138.38" y2="506.69" stroke="#7a7a92" stroke-width="0.7"/>
<line x1="142.64" y1="514.40" x2="142.64" y2="507.63" stroke="#7a7a92" stroke-width="0.7"/>
<line x1="146.91" y1="514.40" x2="146.91" y2="507.25" stroke="#7a7a92" stroke-width="0.7"/>
<line x1="151.18" y1="514.40" x2="151.18" y2="506.69" stroke="#7a7a92" stroke-width="0.7"/>
<line x1="155.45" y1="514.40" x2="155.45" y2="507.63" stroke="#7a7a92" stroke-width="0.7"/>
<line x1="159.72" y1="514.40" x2="159.72" y2="508.56" stroke="#7a7a92" stroke-width="0.7"/>
<line x1="163.98" y1="514.40" x2="163.98" y2="509.50" stroke="#7a7a92" stroke-width="0.7"/>
<line x1="168.25" y1="514.40" x2="168.25" y2="509.50" stroke="#7a7a92" stroke-width="0.7"/>
<line x1="172.52" y1="514.40" x2="172.52" y2="509.88" stroke="#7a7a92" stroke-width="0.7"/>
<line x1="176.79" y1="514.40" x2="176.79" y2="509.50" stroke="#7a7a92" stroke-width="0.7"/>
<line x1="181.06" y1="514.40" x2="181.06" y2="508.56" stroke="#7a7a92" stroke-width="0.7"/>
<line x1="185.32" y1="514.40" x2="185.32" y2="507.63" stroke="#7a7a92" stroke-width="0.7"/>
<line x1="189.59" y1="514.40" x2="189.59" y2="507.63" stroke="#7a7a92" stroke-width="0.7"/>
<line x1="193.86" y1="514.40" x2="193.86" y2="512.31" stroke="#7a7a92" stroke-width="0.7"/>
<line x1="198.13" y1="514.40" x2="198.13" y2="513.63" stroke="#7a7a92" stroke-width="0.7"/>
<line x1="202.40" y1="514.40" x2="202.40" y2="514.75" stroke="#7a7a92" stroke-width="0.7"/>
<line x1="206.66" y1="514.40" x2="206.66" y2="515.13" stroke="#7a7a92" stroke-width="0.7"/>
<line x1="210.93" y1="514.40" x2="210.93" y2="516.06" stroke="#7a7a92" stroke-width="0.7"/>
<line x1="215.20" y1="514.40" x2="215.20" y2="517.00" stroke="#7a7a92" stroke-width="0.7"/>
<line x1="219.47" y1="514.40" x2="219.47" y2="520.75" stroke="#7a7a92" stroke-width="0.7"/>
<line x1="223.74" y1="514.40" x2="223.74" y2="523.00" stroke="#7a7a92" stroke-width="0.7"/>
<line x1="228.00" y1="514.40" x2="228.00" y2="528.25" stroke="#7a7a92" stroke-width="0.7"/>
<line x1="232.27" y1="514.40" x2="232.27" y2="533.88" stroke="#7a7a92" stroke-width="0.7"/>
<line x1="236.54" y1="514.40" x2="236.54" y2="535.75" stroke="#7a7a92" stroke-width="0.7"/>
<line x1="240.81" y1="514.40" x2="240.81" y2="537.63" stroke="#7a7a92" stroke-width="0.7"/>
<line x1="245.08" y1="514.40" x2="245.08" y2="538.56" stroke="#7a7a92" stroke-width="0.7"/>
<line x1="249.34" y1="514.40" x2="249.34" y2="539.13" stroke="#7a7a92" stroke-width="0.7"/>
<line x1="253.61" y1="514.40" x2="253.61" y2="538.56" stroke="#7a7a92" stroke-width="0.7"/>
<line x1="257.88" y1="514.40" x2="257.88" y2="535.38" stroke="#7a7a92" stroke-width="0.7"/>
<line x1="262.15" y1="514.40" x2="262.15" y2="535.75" stroke="#7a7a92" stroke-width="0.7"/>
<line x1="266.42" y1="514.40" x2="266.42" y2="536.69" stroke="#7a7a92" stroke-width="0.7"/>
<line x1="270.68" y1="514.40" x2="270.68" y2="535.75" stroke="#7a7a92" stroke-width="0.7"/>
<line x1="274.95" y1="514.40" x2="274.95" y2="539.50" stroke="#7a7a92" stroke-width="0.7"/>
<line x1="279.22" y1="514.40" x2="279.22" y2="541.38" stroke="#7a7a92" stroke-width="0.7"/>
<line x1="283.49" y1="514.40" x2="283.49" y2="544.19" stroke="#7a7a92" stroke-width="0.7"/>
<line x1="287.76" y1="514.40" x2="287.76" y2="546.63" stroke="#7a7a92" stroke-width="0.7"/>
<line x1="292.02" y1="514.40" x2="292.02" y2="547.38" stroke="#7a7a92" stroke-width="0.7"/>
<line x1="296.29" y1="514.40" x2="296.29" y2="547.94" stroke="#7a7a92" stroke-width="0.7"/>
<line x1="300.56" y1="514.40" x2="300.56" y2="548.88" stroke="#7a7a92" stroke-width="0.7"/>
<line x1="304.83" y1="514.40" x2="304.83" y2="549.25" stroke="#7a7a92" stroke-width="0.7"/>
<line x1="309.10" y1="514.40" x2="309.10" y2="549.25" stroke="#7a7a92" stroke-width="0.7"/>
<line x1="313.36" y1="514.40" x2="313.36" y2="548.88" stroke="#7a7a92" stroke-width="0.7"/>
<line x1="317.63" y1="514.40" x2="317.63" y2="547.00" stroke="#7a7a92" stroke-width="0.7"/>
<line x1="321.90" y1="514.40" x2="321.90" y2="546.06" stroke="#7a7a92" stroke-width="0.7"/>
<line x1="326.17" y1="514.40" x2="326.17" y2="543.63" stroke="#7a7a92" stroke-width="0.7"/>
<line x1="330.44" y1="514.40" x2="330.44" y2="542.31" stroke="#7a7a92" stroke-width="0.7"/>
<line x1="334.70" y1="514.40" x2="334.70" y2="545.13" stroke="#7a7a92" stroke-width="0.7"/>
<line x1="338.97" y1="514.40" x2="338.97" y2="550.75" stroke="#7a7a92" stroke-width="0.7"/>
<line x1="343.24" y1="514.40" x2="343.24" y2="552.63" stroke="#7a7a92" stroke-width="0.7"/>
<line x1="347.51" y1="514.40" x2="347.51" y2="551.69" stroke="#7a7a92" stroke-width="0.7"/>
<line x1="351.78" y1="514.40" x2="351.78" y2="556.38" stroke="#7a7a92" stroke-width="0.7"/>
<line x1="356.04" y1="514.40" x2="356.04" y2="558.63" stroke="#7a7a92" stroke-width="0.7"/>
<line x1="360.31" y1="514.40" x2="360.31" y2="559.19" stroke="#7a7a92" stroke-width="0.7"/>
<line x1="364.58" y1="514.40" x2="364.58" y2="555.44" stroke="#7a7a92" stroke-width="0.7"/>
<line x1="368.85" y1="514.40" x2="368.85" y2="551.69" stroke="#7a7a92" stroke-width="0.7"/>
<line x1="373.12" y1="514.40" x2="373.12" y2="550.75" stroke="#7a7a92" stroke-width="0.7"/>
<line x1="377.38" y1="514.40" x2="377.38" y2="545.50" stroke="#7a7a92" stroke-width="0.7"/>
<line x1="381.65" y1="514.40" x2="381.65" y2="543.25" stroke="#7a7a92" stroke-width="0.7"/>
<line x1="385.92" y1="514.40" x2="385.92" y2="538.56" stroke="#7a7a92" stroke-width="0.7"/>
<line x1="390.19" y1="514.40" x2="390.19" y2="538.56" stroke="#7a7a92" stroke-width="0.7"/>
<line x1="394.46" y1="514.40" x2="394.46" y2="537.63" stroke="#7a7a92" stroke-width="0.7"/>
<line x1="398.72" y1="514.40" x2="398.72" y2="536.69" stroke="#7a7a92" stroke-width="0.7"/>
<line x1="402.99" y1="514.40" x2="402.99" y2="535.75" stroke="#7a7a92" stroke-width="0.7"/>
<line x1="407.26" y1="514.40" x2="407.26" y2="535.75" stroke="#7a7a92" stroke-width="0.7"/>
<line x1="411.53" y1="514.40" x2="411.53" y2="534.81" stroke="#7a7a92" stroke-width="0.7"/>
<line x1="415.80" y1="514.40" x2="415.80" y2="534.81" stroke="#7a7a92" stroke-width="0.7"/>
<line x1="420.06" y1="514.40" x2="420.06" y2="533.88" stroke="#7a7a92" stroke-width="0.7"/>
<line x1="424.33" y1="514.40" x2="424.33" y2="533.88" stroke="#7a7a92" stroke-width="0.7"/>
<line x1="428.60" y1="514.40" x2="428.60" y2="536.69" stroke="#7a7a92" stroke-width="0.7"/>
<line x1="432.87" y1="514.40" x2="432.87" y2="538.56" stroke="#7a7a92" stroke-width="0.7"/>
<line x1="437.14" y1="514.40" x2="437.14" y2="539.50" stroke="#7a7a92" stroke-width="0.7"/>
<line x1="441.40" y1="514.40" x2="441.40" y2="539.50" stroke="#7a7a92" stroke-width="0.7"/>
<line x1="445.67" y1="514.40" x2="445.67" y2="538.56" stroke="#7a7a92" stroke-width="0.7"/>
<line x1="449.94" y1="514.40" x2="449.94" y2="536.69" stroke="#7a7a92" stroke-width="0.7"/>
<line x1="454.21" y1="514.40" x2="454.21" y2="536.69" stroke="#7a7a92" stroke-width="0.7"/>
<line x1="458.48" y1="514.40" x2="458.48" y2="538.56" stroke="#7a7a92" stroke-width="0.7"/>
<line x1="462.74" y1="514.40" x2="462.74" y2="539.50" stroke="#7a7a92" stroke-width="0.7"/>
<line x1="467.01" y1="514.40" x2="467.01" y2="541.38" stroke="#7a7a92" stroke-width="0.7"/>
<line x1="471.28" y1="514.40" x2="471.28" y2="541.38" stroke="#7a7a92" stroke-width="0.7"/>
<line x1="475.55" y1="514.40" x2="475.55" y2="539.50" stroke="#7a7a92" stroke-width="0.7"/>
<line x1="479.82" y1="514.40" x2="479.82" y2="540.44" stroke="#7a7a92" stroke-width="0.7"/>
<line x1="484.08" y1="514.40" x2="484.08" y2="541.75" stroke="#7a7a92" stroke-width="0.7"/>
<line x1="488.35" y1="514.40" x2="488.35" y2="542.31" stroke="#7a7a92" stroke-width="0.7"/>
<line x1="492.62" y1="514.40" x2="492.62" y2="541.75" stroke="#7a7a92" stroke-width="0.7"/>
<line x1="496.89" y1="514.40" x2="496.89" y2="541.75" stroke="#7a7a92" stroke-width="0.7"/>
<line x1="501.16" y1="514.40" x2="501.16" y2="541.00" stroke="#7a7a92" stroke-width="0.7"/>
<line x1="505.42" y1="514.40" x2="505.42" y2="540.44" stroke="#7a7a92" stroke-width="0.7"/>
<line x1="509.69" y1="514.40" x2="509.69" y2="541.00" stroke="#7a7a92" stroke-width="0.7"/>
<line x1="513.96" y1="514.40" x2="513.96" y2="540.44" stroke="#7a7a92" stroke-width="0.7"/>
<line x1="518.23" y1="514.40" x2="518.23" y2="540.44" stroke="#7a7a92" stroke-width="0.7"/>
<line x1="522.50" y1="514.40" x2="522.50" y2="541.00" stroke="#7a7a92" stroke-width="0.7"/>
<line x1="526.76" y1="514.40" x2="526.76" y2="541.75" stroke="#7a7a92" stroke-width="0.7"/>
<line x1="531.03" y1="514.40" x2="531.03" y2="545.50" stroke="#7a7a92" stroke-width="0.7"/>
<line x1="535.30" y1="514.40" x2="535.30" y2="546.63" stroke="#7a7a92" stroke-width="0.7"/>
<line x1="539.57" y1="514.40" x2="539.57" y2="549.25" stroke="#7a7a92" stroke-width="0.7"/>
<line x1="543.84" y1="514.40" x2="543.84" y2="548.50" stroke="#7a7a92" stroke-width="0.7"/>
<line x1="548.10" y1="514.40" x2="548.10" y2="548.50" stroke="#7a7a92" stroke-width="0.7"/>
<line x1="552.37" y1="514.40" x2="552.37" y2="548.50" stroke="#7a7a92" stroke-width="0.7"/>
<line x1="556.64" y1="514.40" x2="556.64" y2="547.00" stroke="#7a7a92" stroke-width="0.7"/>
<line x1="560.91" y1="514.40" x2="560.91" y2="546.63" stroke="#7a7a92" stroke-width="0.7"/>
<line x1="565.18" y1="514.40" x2="565.18" y2="545.13" stroke="#7a7a92" stroke-width="0.7"/>
<line x1="569.44" y1="514.40" x2="569.44" y2="543.63" stroke="#7a7a92" stroke-width="0.7"/>
<line x1="573.71" y1="514.40" x2="573.71" y2="542.31" stroke="#7a7a92" stroke-width="0.7"/>
<line x1="577.98" y1="514.40" x2="577.98" y2="539.50" stroke="#7a7a92" stroke-width="0.7"/>
<line x1="582.25" y1="514.40" x2="582.25" y2="538.56" stroke="#7a7a92" stroke-width="0.7"/>
<line x1="586.52" y1="514.40" x2="586.52" y2="534.81" stroke="#7a7a92" stroke-width="0.7"/>
<line x1="590.78" y1="514.40" x2="590.78" y2="530.50" stroke="#7a7a92" stroke-width="0.7"/>
<line x1="595.05" y1="514.40" x2="595.05" y2="522.25" stroke="#7a7a92" stroke-width="0.7"/>
<line x1="599.32" y1="514.40" x2="599.32" y2="516.06" stroke="#7a7a92" stroke-width="0.7"/>
<line x1="603.59" y1="514.40" x2="603.59" y2="509.88" stroke="#7a7a92" stroke-width="0.7"/>
<line x1="607.86" y1="514.40" x2="607.86" y2="503.50" stroke="#7a7a92" stroke-width="0.7"/>
<line x1="612.12" y1="514.40" x2="612.12" y2="497.88" stroke="#7a7a92" stroke-width="0.7"/>
<line x1="616.39" y1="514.40" x2="616.39" y2="493.56" stroke="#7a7a92" stroke-width="0.7"/>
<line x1="620.66" y1="514.40" x2="620.66" y2="489.81" stroke="#7a7a92" stroke-width="0.7"/>
<line x1="624.93" y1="514.40" x2="624.93" y2="488.50" stroke="#7a7a92" stroke-width="0.7"/>
<line x1="629.20" y1="514.40" x2="629.20" y2="485.13" stroke="#7a7a92" stroke-width="0.7"/>
<line x1="633.46" y1="514.40" x2="633.46" y2="481.38" stroke="#7a7a92" stroke-width="0.7"/>
<line x1="637.73" y1="514.40" x2="637.73" y2="479.50" stroke="#7a7a92" stroke-width="0.7"/>
<line x1="642.00" y1="514.40" x2="642.00" y2="481.00" stroke="#7a7a92" stroke-width="0.7"/>
<line x1="646.27" y1="514.40" x2="646.27" y2="487.00" stroke="#7a7a92" stroke-width="0.7"/>
<line x1="650.54" y1="514.40" x2="650.54" y2="488.50" stroke="#7a7a92" stroke-width="0.7"/>
<line x1="654.80" y1="514.40" x2="654.80" y2="488.50" stroke="#7a7a92" stroke-width="0.7"/>
<line x1="659.07" y1="514.40" x2="659.07" y2="488.88" stroke="#7a7a92" stroke-width="0.7"/>
<line x1="663.34" y1="514.40" x2="663.34" y2="489.81" stroke="#7a7a92" stroke-width="0.7"/>
<line x1="667.61" y1="514.40" x2="667.61" y2="489.81" stroke="#7a7a92" stroke-width="0.7"/>
<line x1="671.88" y1="514.40" x2="671.88" y2="491.69" stroke="#7a7a92" stroke-width="0.7"/>
<line x1="676.14" y1="514.40" x2="676.14" y2="491.69" stroke="#7a7a92" stroke-width="0.7"/>
<line x1="680.41" y1="514.40" x2="680.41" y2="490.75" stroke="#7a7a92" stroke-width="0.7"/>
<line x1="684.68" y1="514.40" x2="684.68" y2="489.81" stroke="#7a7a92" stroke-width="0.7"/>
<line x1="688.95" y1="514.40" x2="688.95" y2="490.75" stroke="#7a7a92" stroke-width="0.7"/>
<line x1="693.22" y1="514.40" x2="693.22" y2="487.38" stroke="#7a7a92" stroke-width="0.7"/>
<line x1="697.48" y1="514.40" x2="697.48" y2="484.75" stroke="#7a7a92" stroke-width="0.7"/>
<line x1="701.75" y1="514.40" x2="701.75" y2="484.19" stroke="#7a7a92" stroke-width="0.7"/>
<line x1="706.02" y1="514.40" x2="706.02" y2="484.19" stroke="#7a7a92" stroke-width="0.7"/>
<line x1="710.29" y1="514.40" x2="710.29" y2="484.75" stroke="#7a7a92" stroke-width="0.7"/>
<line x1="714.56" y1="514.40" x2="714.56" y2="486.63" stroke="#7a7a92" stroke-width="0.7"/>
<line x1="718.82" y1="514.40" x2="718.82" y2="487.00" stroke="#7a7a92" stroke-width="0.7"/>
<line x1="723.09" y1="514.40" x2="723.09" y2="489.81" stroke="#7a7a92" stroke-width="0.7"/>
<line x1="727.36" y1="514.40" x2="727.36" y2="490.75" stroke="#7a7a92" stroke-width="0.7"/>
<line x1="731.63" y1="514.40" x2="731.63" y2="491.69" stroke="#7a7a92" stroke-width="0.7"/>
<line x1="735.90" y1="514.40" x2="735.90" y2="494.88" stroke="#7a7a92" stroke-width="0.7"/>
<line x1="740.16" y1="514.40" x2="740.16" y2="496.00" stroke="#7a7a92" stroke-width="0.7"/>
<line x1="744.43" y1="514.40" x2="744.43" y2="497.31" stroke="#7a7a92" stroke-width="0.7"/>
<line x1="748.70" y1="514.40" x2="748.70" y2="499.19" stroke="#7a7a92" stroke-width="0.7"/>
<line x1="752.97" y1="514.40" x2="752.97" y2="500.13" stroke="#7a7a92" stroke-width="0.7"/>
<line x1="757.24" y1="514.40" x2="757.24" y2="500.13" stroke="#7a7a92" stroke-width="0.7"/>
<line x1="761.50" y1="514.40" x2="761.50" y2="499.19" stroke="#7a7a92" stroke-width="0.7"/>
<line x1="765.77" y1="514.40" x2="765.77" y2="498.25" stroke="#7a7a92" stroke-width="0.7"/>
<line x1="770.04" y1="514.40" x2="770.04" y2="497.88" stroke="#7a7a92" stroke-width="0.7"/>
<line x1="774.31" y1="514.40" x2="774.31" y2="498.63" stroke="#7a7a92" stroke-width="0.7"/>
<line x1="778.58" y1="514.40" x2="778.58" y2="500.13" stroke="#7a7a92" stroke-width="0.7"/>
<line x1="782.84" y1="514.40" x2="782.84" y2="501.06" stroke="#7a7a92" stroke-width="0.7"/>
<line x1="787.11" y1="514.40" x2="787.11" y2="504.81" stroke="#7a7a92" stroke-width="0.7"/>
<line x1="791.38" y1="514.40" x2="791.38" y2="508.00" stroke="#7a7a92" stroke-width="0.7"/>
<line x1="795.65" y1="514.40" x2="795.65" y2="513.63" stroke="#7a7a92" stroke-width="0.7"/>
<line x1="799.92" y1="514.40" x2="799.92" y2="514.75" stroke="#7a7a92" stroke-width="0.7"/>
<line x1="804.18" y1="514.40" x2="804.18" y2="517.00" stroke="#7a7a92" stroke-width="0.7"/>
<line x1="808.45" y1="514.40" x2="808.45" y2="518.88" stroke="#7a7a92" stroke-width="0.7"/>
<line x1="812.72" y1="514.40" x2="812.72" y2="522.63" stroke="#7a7a92" stroke-width="0.7"/>
<line x1="816.99" y1="514.40" x2="816.99" y2="524.50" stroke="#7a7a92" stroke-width="0.7"/>
<line x1="821.26" y1="514.40" x2="821.26" y2="526.38" stroke="#7a7a92" stroke-width="0.7"/>
<line x1="825.52" y1="514.40" x2="825.52" y2="526.00" stroke="#7a7a92" stroke-width="0.7"/>
<line x1="829.79" y1="514.40" x2="829.79" y2="527.31" stroke="#7a7a92" stroke-width="0.7"/>
<line x1="834.06" y1="514.40" x2="834.06" y2="529.19" stroke="#7a7a92" stroke-width="0.7"/>
<line x1="838.33" y1="514.40" x2="838.33" y2="528.25" stroke="#7a7a92" stroke-width="0.7"/>
<line x1="842.60" y1="514.40" x2="842.60" y2="525.44" stroke="#7a7a92" stroke-width="0.7"/>
<line x1="846.86" y1="514.40" x2="846.86" y2="523.00" stroke="#7a7a92" stroke-width="0.7"/>
<line x1="851.13" y1="514.40" x2="851.13" y2="523.00" stroke="#7a7a92" stroke-width="0.7"/>
<line x1="855.40" y1="514.40" x2="855.40" y2="521.69" stroke="#7a7a92" stroke-width="0.7"/>
<line x1="859.67" y1="514.40" x2="859.67" y2="520.38" stroke="#7a7a92" stroke-width="0.7"/>
<line x1="863.94" y1="514.40" x2="863.94" y2="519.25" stroke="#7a7a92" stroke-width="0.7"/>
<line x1="868.20" y1="514.40" x2="868.20" y2="518.50" stroke="#7a7a92" stroke-width="0.7"/>
<line x1="872.47" y1="514.40" x2="872.47" y2="519.25" stroke="#7a7a92" stroke-width="0.7"/>
<line x1="876.74" y1="514.40" x2="876.74" y2="519.25" stroke="#7a7a92" stroke-width="0.7"/>
<line x1="881.01" y1="514.40" x2="881.01" y2="518.88" stroke="#7a7a92" stroke-width="0.7"/>
<line x1="885.28" y1="514.40" x2="885.28" y2="518.50" stroke="#7a7a92" stroke-width="0.7"/>
<line x1="889.54" y1="514.40" x2="889.54" y2="511.38" stroke="#7a7a92" stroke-width="0.7"/>
<line x1="893.81" y1="514.40" x2="893.81" y2="504.25" stroke="#7a7a92" stroke-width="0.7"/>
<line x1="898.08" y1="514.40" x2="898.08" y2="494.50" stroke="#7a7a92" stroke-width="0.7"/>
<line x1="902.35" y1="514.40" x2="902.35" y2="489.50" stroke="#7a7a92" stroke-width="0.7"/>
<line x1="906.62" y1="514.40" x2="906.62" y2="485.75" stroke="#7a7a92" stroke-width="0.7"/>
<line x1="910.88" y1="514.40" x2="910.88" y2="483.88" stroke="#7a7a92" stroke-width="0.7"/>
<line x1="915.15" y1="514.40" x2="915.15" y2="482.62" stroke="#7a7a92" stroke-width="0.7"/>
<line x1="919.42" y1="514.40" x2="919.42" y2="481.38" stroke="#7a7a92" stroke-width="0.7"/>
<line x1="923.69" y1="514.40" x2="923.69" y2="481.00" stroke="#7a7a92" stroke-width="0.7"/>
<line x1="927.96" y1="514.40" x2="927.96" y2="482.62" stroke="#7a7a92" stroke-width="0.7"/>
<line x1="932.22" y1="514.40" x2="932.22" y2="482.00" stroke="#7a7a92" stroke-width="0.7"/>
<line x1="936.49" y1="514.40" x2="936.49" y2="483.88" stroke="#7a7a92" stroke-width="0.7"/>
<line x1="940.76" y1="514.40" x2="940.76" y2="483.88" stroke="#7a7a92" stroke-width="0.7"/>
<line x1="945.03" y1="514.40" x2="945.03" y2="483.88" stroke="#7a7a92" stroke-width="0.7"/>
<line x1="949.30" y1="514.40" x2="949.30" y2="483.88" stroke="#7a7a92" stroke-width="0.7"/>
<line x1="953.56" y1="514.40" x2="953.56" y2="485.75" stroke="#7a7a92" stroke-width="0.7"/>
<line x1="957.83" y1="514.40" x2="957.83" y2="486.75" stroke="#7a7a92" stroke-width="0.7"/>
<line x1="962.10" y1="514.40" x2="962.10" y2="488.00" stroke="#7a7a92" stroke-width="0.7"/>
<line x1="966.37" y1="514.40" x2="966.37" y2="488.25" stroke="#7a7a92" stroke-width="0.7"/>
<line x1="970.64" y1="514.40" x2="970.64" y2="491.00" stroke="#7a7a92" stroke-width="0.7"/>
<line x1="974.90" y1="514.40" x2="974.90" y2="492.62" stroke="#7a7a92" stroke-width="0.7"/>
<line x1="979.17" y1="514.40" x2="979.17" y2="493.88" stroke="#7a7a92" stroke-width="0.7"/>
<path d="M0.00 517.00 C0.63 516.84 1.88 516.53 3.75 516.06 C5.63 515.59 8.44 514.59 11.25 514.19 C14.06 513.78 18.13 513.53 20.63 513.63 C23.13 513.72 24.22 514.44 26.25 514.75 C28.28 515.06 27.19 515.38 32.81 515.50 C38.44 515.63 54.22 515.72 60.00 515.50 C65.78 515.28 64.06 514.56 67.50 514.19 C70.94 513.81 76.88 513.25 80.63 513.25 C84.38 513.25 86.88 514.19 90.00 514.19 C93.13 514.19 96.25 513.56 99.38 513.25 C102.50 512.94 105.63 512.69 108.75 512.31 C111.88 511.94 114.69 511.47 118.13 511.00 C121.56 510.53 126.25 510.00 129.38 509.50 C132.50 509.00 134.06 508.41 136.88 508.00 C139.69 507.59 142.50 507.22 146.25 507.06 C150.00 506.91 155.63 506.81 159.38 507.06 C163.13 507.31 165.63 508.09 168.75 508.56 C171.88 509.03 174.25 509.72 178.13 509.88 C182.00 510.03 188.75 509.56 192.00 509.50 C195.25 509.44 195.44 509.50 197.63 509.50 C199.81 509.50 202.94 509.34 205.13 509.50 C207.31 509.66 208.25 509.88 210.75 510.44 C213.25 511.00 217.47 512.03 220.13 512.88 C222.78 513.72 224.19 514.13 226.69 515.50 C229.19 516.88 232.16 519.16 235.13 521.13 C238.09 523.09 241.38 525.34 244.50 527.31 C247.63 529.28 250.75 531.22 253.88 532.94 C257.00 534.66 260.44 536.78 263.25 537.63 C266.06 538.47 267.31 537.63 270.75 538.00 C274.19 538.38 280.13 539.16 283.88 539.88 C287.63 540.59 289.81 541.44 293.25 542.31 C296.69 543.19 301.06 544.25 304.50 545.13 C307.94 546.00 310.75 547.06 313.88 547.56 C317.00 548.06 320.13 548.22 323.25 548.13 C326.38 548.03 329.50 547.34 332.63 547.00 C335.75 546.66 339.50 546.13 342.00 546.06 C344.50 546.00 345.13 546.09 347.63 546.63 C350.13 547.16 353.88 548.31 357.00 549.25 C360.13 550.19 363.72 551.44 366.38 552.25 C369.03 553.06 370.75 553.91 372.94 554.13 C375.13 554.34 377.66 553.88 379.50 553.56 C381.34 553.25 381.69 553.34 384.00 552.25 C386.31 551.16 390.25 548.75 393.38 547.00 C396.50 545.25 399.16 543.41 402.75 541.75 C406.34 540.09 410.25 538.13 414.94 537.06 C419.63 536.00 426.66 535.59 430.88 535.38 C435.09 535.16 437.13 535.53 440.25 535.75 C443.38 535.97 446.50 536.22 449.63 536.69 C452.75 537.16 455.88 537.94 459.00 538.56 C462.13 539.19 465.25 540.06 468.38 540.44 C471.50 540.81 474.31 540.66 477.75 540.81 C481.19 540.97 484.31 541.22 489.00 541.38 C493.69 541.53 498.38 541.69 505.88 541.75 C513.38 541.81 528.38 541.50 534.00 541.75 C539.63 542.00 537.13 542.69 539.63 543.25 C542.13 543.81 546.19 544.50 549.00 545.13 C551.81 545.75 554.00 546.63 556.50 547.00 C559.00 547.38 560.75 547.44 564.00 547.38 C567.25 547.31 572.44 547.31 576.00 546.63 C579.56 545.94 582.25 544.91 585.38 543.25 C588.50 541.59 591.63 539.19 594.75 536.69 C597.88 534.19 601.00 531.22 604.13 528.25 C607.25 525.28 610.38 522.31 613.50 518.88 C616.63 515.44 619.75 511.06 622.88 507.63 C626.00 504.19 629.13 501.38 632.25 498.25 C635.38 495.13 638.50 491.00 641.63 488.88 C644.75 486.75 647.88 486.19 651.00 485.50 C654.13 484.81 657.25 484.66 660.38 484.75 C663.50 484.84 666.63 485.31 669.75 486.06 C672.88 486.81 676.00 488.56 679.13 489.25 C682.25 489.94 685.38 490.19 688.50 490.19 C691.63 490.19 694.75 489.63 697.88 489.25 C701.00 488.88 704.13 488.47 707.25 487.94 C710.38 487.41 713.50 486.47 716.63 486.06 C719.75 485.66 722.88 485.34 726.00 485.50 C729.13 485.66 732.25 486.19 735.38 487.00 C738.50 487.81 741.63 489.28 744.75 490.38 C747.88 491.47 751.00 492.50 754.13 493.56 C757.25 494.63 761.19 496.13 763.50 496.75 C765.81 497.38 765.69 497.00 768.00 497.31 C770.31 497.63 774.25 498.22 777.38 498.63 C780.50 499.03 783.63 499.19 786.75 499.75 C789.88 500.31 793.00 500.84 796.13 502.00 C799.25 503.16 802.38 504.97 805.50 506.69 C808.63 508.41 811.75 510.44 814.88 512.31 C818.00 514.19 821.13 516.22 824.25 517.94 C827.38 519.66 830.50 521.28 833.63 522.63 C836.75 523.97 839.88 525.31 843.00 526.00 C846.13 526.69 849.25 526.84 852.38 526.75 C855.50 526.66 858.63 526.06 861.75 525.44 C864.88 524.81 868.00 523.72 871.13 523.00 C874.25 522.28 877.38 521.81 880.50 521.13 C883.63 520.44 887.29 519.81 889.88 518.88 C892.46 517.94 894.44 516.59 896.00 515.50 C897.56 514.41 897.79 513.52 899.25 512.31 C900.71 511.10 903.19 509.41 904.75 508.25 C906.31 507.09 907.17 506.73 908.63 505.38 C910.08 504.02 911.94 501.63 913.50 500.12 C915.06 498.62 916.33 498.04 918.00 496.38 C919.67 494.71 921.94 491.53 923.50 490.12 C925.06 488.72 925.92 488.88 927.38 487.94 C928.83 487.00 929.98 485.39 932.25 484.50 C934.52 483.61 938.29 483.08 941.00 482.62 C943.71 482.17 945.58 481.60 948.50 481.75 C951.42 481.90 955.17 482.88 958.50 483.50 C961.83 484.12 965.90 484.96 968.50 485.50 C971.10 486.04 972.35 486.29 974.12 486.75 C975.90 487.21 978.29 488.00 979.12 488.25" fill="none" stroke="#4cc8c8" stroke-width="1.1"/>
<rect x="0" y="0" width="1024" height="576" fill="none"/>
<line x1="1.50" y1="0.80" x2="1.50" y2="563.50" stroke="#b4b6c8" stroke-width="1"/>
<line x1="990.00" y1="0.80" x2="990.00" y2="563.50" stroke="#b4b6c8" stroke-width="1.4"/>
<line x1="1.50" y1="1.30" x2="990.00" y2="1.30" stroke="#b4b6c8" stroke-width="1"/>
<line x1="1.50" y1="392.10" x2="990.00" y2="392.10" stroke="#b4b6c8" stroke-width="1.7"/>
<line x1="1.50" y1="473.90" x2="990.00" y2="473.90" stroke="#b4b6c8" stroke-width="1.7"/>
<line x1="1.50" y1="563.50" x2="990.00" y2="563.50" stroke="#b4b6c8" stroke-width="1"/>
<line x1="990.00" y1="15.50" x2="992.00" y2="15.50" stroke="#b4b6c8" stroke-width="1"/>
<line x1="990.00" y1="41.64" x2="992.00" y2="41.64" stroke="#b4b6c8" stroke-width="1"/>
<line x1="990.00" y1="67.79" x2="992.00" y2="67.79" stroke="#b4b6c8" stroke-width="1"/>
<line x1="990.00" y1="93.93" x2="992.00" y2="93.93" stroke="#b4b6c8" stroke-width="1"/>
<line x1="990.00" y1="120.07" x2="992.00" y2="120.07" stroke="#b4b6c8" stroke-width="1"/>
<line x1="990.00" y1="146.22" x2="992.00" y2="146.22" stroke="#b4b6c8" stroke-width="1"/>
<line x1="990.00" y1="172.36" x2="992.00" y2="172.36" stroke="#b4b6c8" stroke-width="1"/>
<line x1="990.00" y1="198.50" x2="992.00" y2="198.50" stroke="#b4b6c8" stroke-width="1"/>
<line x1="990.00" y1="224.64" x2="992.00" y2="224.64" stroke="#b4b6c8" stroke-width="1"/>
<line x1="990.00" y1="250.79" x2="992.00" y2="250.79" stroke="#b4b6c8" stroke-width="1"/>
<line x1="990.00" y1="276.93" x2="992.00" y2="276.93" stroke="#b4b6c8" stroke-width="1"/>
<line x1="990.00" y1="303.07" x2="992.00" y2="303.07" stroke="#b4b6c8" stroke-width="1"/>
<line x1="990.00" y1="329.22" x2="992.00" y2="329.22" stroke="#b4b6c8" stroke-width="1"/>
<line x1="990.00" y1="355.36" x2="992.00" y2="355.36" stroke="#b4b6c8" stroke-width="1"/>
<line x1="990.00" y1="381.50" x2="992.00" y2="381.50" stroke="#b4b6c8" stroke-width="1"/>
<line x1="1.80" y1="563.50" x2="1.80" y2="566.00" stroke="#b4b6c8" stroke-width="1"/>
<line x1="53.02" y1="563.50" x2="53.02" y2="566.00" stroke="#b4b6c8" stroke-width="1"/>
<line x1="104.23" y1="563.50" x2="104.23" y2="566.00" stroke="#b4b6c8" stroke-width="1"/>
<line x1="155.45" y1="563.50" x2="155.45" y2="566.00" stroke="#b4b6c8" stroke-width="1"/>
<line x1="206.66" y1="563.50" x2="206.66" y2="566.00" stroke="#b4b6c8" stroke-width="1"/>
<line x1="257.88" y1="563.50" x2="257.88" y2="566.00" stroke="#b4b6c8" stroke-width="1"/>
<line x1="309.10" y1="563.50" x2="309.10" y2="566.00" stroke="#b4b6c8" stroke-width="1"/>
<line x1="360.31" y1="563.50" x2="360.31" y2="566.00" stroke="#b4b6c8" stroke-width="1"/>
<line x1="411.53" y1="563.50" x2="411.53" y2="566.00" stroke="#b4b6c8" stroke-width="1"/>
<line x1="462.74" y1="563.50" x2="462.74" y2="566.00" stroke="#b4b6c8" stroke-width="1"/>
<line x1="513.96" y1="563.50" x2="513.96" y2="566.00" stroke="#b4b6c8" stroke-width="1"/>
<line x1="565.18" y1="563.50" x2="565.18" y2="566.00" stroke="#b4b6c8" stroke-width="1"/>
<line x1="616.39" y1="563.50" x2="616.39" y2="566.00" stroke="#b4b6c8" stroke-width="1"/>
<line x1="667.61" y1="563.50" x2="667.61" y2="566.00" stroke="#b4b6c8" stroke-width="1"/>
<line x1="718.82" y1="563.50" x2="718.82" y2="566.00" stroke="#b4b6c8" stroke-width="1"/>
<line x1="770.04" y1="563.50" x2="770.04" y2="566.00" stroke="#b4b6c8" stroke-width="1"/>
<line x1="821.26" y1="563.50" x2="821.26" y2="566.00" stroke="#b4b6c8" stroke-width="1"/>
<line x1="872.47" y1="563.50" x2="872.47" y2="566.00" stroke="#b4b6c8" stroke-width="1"/>
<line x1="923.69" y1="563.50" x2="923.69" y2="566.00" stroke="#b4b6c8" stroke-width="1"/>
<line x1="974.90" y1="563.50" x2="974.90" y2="566.00" stroke="#b4b6c8" stroke-width="1"/>
<text transform="translate(993.80 18.00) scale(0.840 1)" fill="#e4e4ec" stroke="#e4e4ec" font-size="7.00" textLength="27.62" lengthAdjust="spacing">137.540</text>
<text transform="translate(993.80 44.14) scale(0.840 1)" fill="#e4e4ec" stroke="#e4e4ec" font-size="7.00" textLength="27.62" lengthAdjust="spacing">137.030</text>
<text transform="translate(993.80 70.29) scale(0.840 1)" fill="#e4e4ec" stroke="#e4e4ec" font-size="7.00" textLength="27.62" lengthAdjust="spacing">136.520</text>
<text transform="translate(993.80 96.43) scale(0.840 1)" fill="#e4e4ec" stroke="#e4e4ec" font-size="7.00" textLength="27.62" lengthAdjust="spacing">136.010</text>
<text transform="translate(993.80 122.57) scale(0.840 1)" fill="#e4e4ec" stroke="#e4e4ec" font-size="7.00" textLength="27.62" lengthAdjust="spacing">135.500</text>
<text transform="translate(993.80 148.72) scale(0.840 1)" fill="#e4e4ec" stroke="#e4e4ec" font-size="7.00" textLength="27.62" lengthAdjust="spacing">134.990</text>
<text transform="translate(993.80 174.86) scale(0.840 1)" fill="#e4e4ec" stroke="#e4e4ec" font-size="7.00" textLength="27.62" lengthAdjust="spacing">134.480</text>
<text transform="translate(993.80 201.00) scale(0.840 1)" fill="#e4e4ec" stroke="#e4e4ec" font-size="7.00" textLength="27.62" lengthAdjust="spacing">133.970</text>
<text transform="translate(993.80 227.14) scale(0.840 1)" fill="#e4e4ec" stroke="#e4e4ec" font-size="7.00" textLength="27.62" lengthAdjust="spacing">133.460</text>
<text transform="translate(993.80 253.29) scale(0.840 1)" fill="#e4e4ec" stroke="#e4e4ec" font-size="7.00" textLength="27.62" lengthAdjust="spacing">132.950</text>
<text transform="translate(993.80 279.43) scale(0.840 1)" fill="#e4e4ec" stroke="#e4e4ec" font-size="7.00" textLength="27.62" lengthAdjust="spacing">132.440</text>
<text transform="translate(993.80 305.57) scale(0.840 1)" fill="#e4e4ec" stroke="#e4e4ec" font-size="7.00" textLength="27.62" lengthAdjust="spacing">131.930</text>
<text transform="translate(993.80 331.72) scale(0.840 1)" fill="#e4e4ec" stroke="#e4e4ec" font-size="7.00" textLength="27.62" lengthAdjust="spacing">131.410</text>
<text transform="translate(993.80 357.86) scale(0.840 1)" fill="#e4e4ec" stroke="#e4e4ec" font-size="7.00" textLength="27.62" lengthAdjust="spacing">130.900</text>
<text transform="translate(993.80 384.00) scale(0.840 1)" fill="#e4e4ec" stroke="#e4e4ec" font-size="7.00" textLength="27.62" lengthAdjust="spacing">130.390</text>
<rect x="990.8" y="133.9" width="30.1" height="8.0" fill="#f4f4f6"/>
<text transform="translate(993.80 141.00) scale(0.840 1)" fill="#141640" stroke="#141640" font-size="7.00" textLength="27.62" lengthAdjust="spacing">135.147</text>
<text transform="translate(992.60 400.00) scale(0.840 1)" fill="#e4e4ec" stroke="#e4e4ec" font-size="7.00" textLength="12.62" lengthAdjust="spacing">100</text>
<text transform="translate(992.60 420.00) scale(0.840 1)" fill="#e4e4ec" stroke="#e4e4ec" font-size="7.00" textLength="8.33" lengthAdjust="spacing">70</text>
<text transform="translate(992.60 452.00) scale(0.840 1)" fill="#e4e4ec" stroke="#e4e4ec" font-size="7.00" textLength="8.33" lengthAdjust="spacing">30</text>
<text transform="translate(992.60 471.30) scale(0.840 1)" fill="#e4e4ec" stroke="#e4e4ec" font-size="7.00" textLength="4.05" lengthAdjust="spacing">0</text>
<text transform="translate(992.40 482.00) scale(0.840 1)" fill="#e4e4ec" stroke="#e4e4ec" font-size="7.00" textLength="24.29" lengthAdjust="spacing">0.5933</text>
<text transform="translate(992.40 517.30) scale(0.840 1)" fill="#e4e4ec" stroke="#e4e4ec" font-size="7.00" textLength="15.48" lengthAdjust="spacing">0.00</text>
<text transform="translate(991.90 561.80) scale(0.840 1)" fill="#e4e4ec" stroke="#e4e4ec" font-size="7.00" textLength="27.62" lengthAdjust="spacing">-0.7379</text>
<text transform="translate(1.20 572.20) scale(0.840 1)" fill="#e4e4ec" stroke="#e4e4ec" font-size="7.00" textLength="39.64" lengthAdjust="spacing">25 Jul 2022</text>
<text transform="translate(52.42 572.20) scale(0.840 1)" fill="#e4e4ec" stroke="#e4e4ec" font-size="7.00" textLength="41.90" lengthAdjust="spacing">26 Jul 11:00</text>
<text transform="translate(103.63 572.20) scale(0.840 1)" fill="#e4e4ec" stroke="#e4e4ec" font-size="7.00" textLength="41.90" lengthAdjust="spacing">26 Jul 23:00</text>
<text transform="translate(154.85 572.20) scale(0.840 1)" fill="#e4e4ec" stroke="#e4e4ec" font-size="7.00" textLength="41.90" lengthAdjust="spacing">27 Jul 11:00</text>
<text transform="translate(206.06 572.20) scale(0.840 1)" fill="#e4e4ec" stroke="#e4e4ec" font-size="7.00" textLength="41.90" lengthAdjust="spacing">27 Jul 23:00</text>
<text transform="translate(257.28 572.20) scale(0.840 1)" fill="#e4e4ec" stroke="#e4e4ec" font-size="7.00" textLength="41.90" lengthAdjust="spacing">28 Jul 11:00</text>
<text transform="translate(308.50 572.20) scale(0.840 1)" fill="#e4e4ec" stroke="#e4e4ec" font-size="7.00" textLength="41.90" lengthAdjust="spacing">28 Jul 23:00</text>
<text transform="translate(359.71 572.20) scale(0.840 1)" fill="#e4e4ec" stroke="#e4e4ec" font-size="7.00" textLength="41.90" lengthAdjust="spacing">29 Jul 11:00</text>
<text transform="translate(410.93 572.20) scale(0.840 1)" fill="#e4e4ec" stroke="#e4e4ec" font-size="7.00" textLength="41.90" lengthAdjust="spacing">29 Jul 23:00</text>
<text transform="translate(462.14 572.20) scale(0.840 1)" fill="#e4e4ec" stroke="#e4e4ec" font-size="7.00" textLength="42.62" lengthAdjust="spacing">1 Aug 11:00</text>
<text transform="translate(513.36 572.20) scale(0.840 1)" fill="#e4e4ec" stroke="#e4e4ec" font-size="7.00" textLength="42.62" lengthAdjust="spacing">1 Aug 23:00</text>
<text transform="translate(564.58 572.20) scale(0.840 1)" fill="#e4e4ec" stroke="#e4e4ec" font-size="7.00" textLength="42.62" lengthAdjust="spacing">2 Aug 11:00</text>
<text transform="translate(615.79 572.20) scale(0.840 1)" fill="#e4e4ec" stroke="#e4e4ec" font-size="7.00" textLength="42.62" lengthAdjust="spacing">2 Aug 23:00</text>
<text transform="translate(667.01 572.20) scale(0.840 1)" fill="#e4e4ec" stroke="#e4e4ec" font-size="7.00" textLength="42.62" lengthAdjust="spacing">3 Aug 11:00</text>
<text transform="translate(718.22 572.20) scale(0.840 1)" fill="#e4e4ec" stroke="#e4e4ec" font-size="7.00" textLength="42.62" lengthAdjust="spacing">3 Aug 23:00</text>
<text transform="translate(769.44 572.20) scale(0.840 1)" fill="#e4e4ec" stroke="#e4e4ec" font-size="7.00" textLength="42.62" lengthAdjust="spacing">4 Aug 11:00</text>
<text transform="translate(820.66 572.20) scale(0.840 1)" fill="#e4e4ec" stroke="#e4e4ec" font-size="7.00" textLength="42.62" lengthAdjust="spacing">4 Aug 23:00</text>
<text transform="translate(871.87 572.20) scale(0.840 1)" fill="#e4e4ec" stroke="#e4e4ec" font-size="7.00" textLength="42.62" lengthAdjust="spacing">5 Aug 11:00</text>
<text transform="translate(923.09 572.20) scale(0.840 1)" fill="#e4e4ec" stroke="#e4e4ec" font-size="7.00" textLength="42.62" lengthAdjust="spacing">5 Aug 23:00</text>
<text transform="translate(974.30 572.20) scale(0.840 1)" fill="#e4e4ec" stroke="#e4e4ec" font-size="7.00" textLength="42.62" lengthAdjust="spacing">8 Aug 11:00</text>
<text transform="translate(11.20 9.00) scale(0.840 1)" fill="#e4e4ec" stroke="#e4e4ec" font-size="7.00" textLength="38.45" lengthAdjust="spacing">USDJPY,H1</text>
<text transform="translate(49.00 9.00) scale(0.840 1)" fill="#e4e4ec" stroke="#e4e4ec" font-size="7.00" textLength="28.45" lengthAdjust="spacing">135.122</text>
<text transform="translate(75.80 9.00) scale(0.840 1)" fill="#e4e4ec" stroke="#e4e4ec" font-size="7.00" textLength="28.45" lengthAdjust="spacing">135.172</text>
<text transform="translate(102.70 9.00) scale(0.840 1)" fill="#e4e4ec" stroke="#e4e4ec" font-size="7.00" textLength="28.10" lengthAdjust="spacing">135.108</text>
<text transform="translate(129.30 9.00) scale(0.840 1)" fill="#e4e4ec" stroke="#e4e4ec" font-size="7.00" textLength="27.50" lengthAdjust="spacing">135.147</text>
<path d="M3.0 5.0 L8.2 5.0 L5.6 8.3 Z" fill="#f0f0f4"/>
<text transform="translate(4.30 401.00) scale(0.840 1)" fill="#e4e4ec" stroke="#e4e4ec" font-size="7.00" textLength="56.67" lengthAdjust="spacing">RSI(14) 59.7351</text>
<text transform="translate(4.40 482.60) scale(0.840 1)" fill="#e4e4ec" stroke="#e4e4ec" font-size="7.00" textLength="106.55" lengthAdjust="spacing">MACD(12,26,9) 0.3128 0.3984</text>
</svg>
</body></html>
